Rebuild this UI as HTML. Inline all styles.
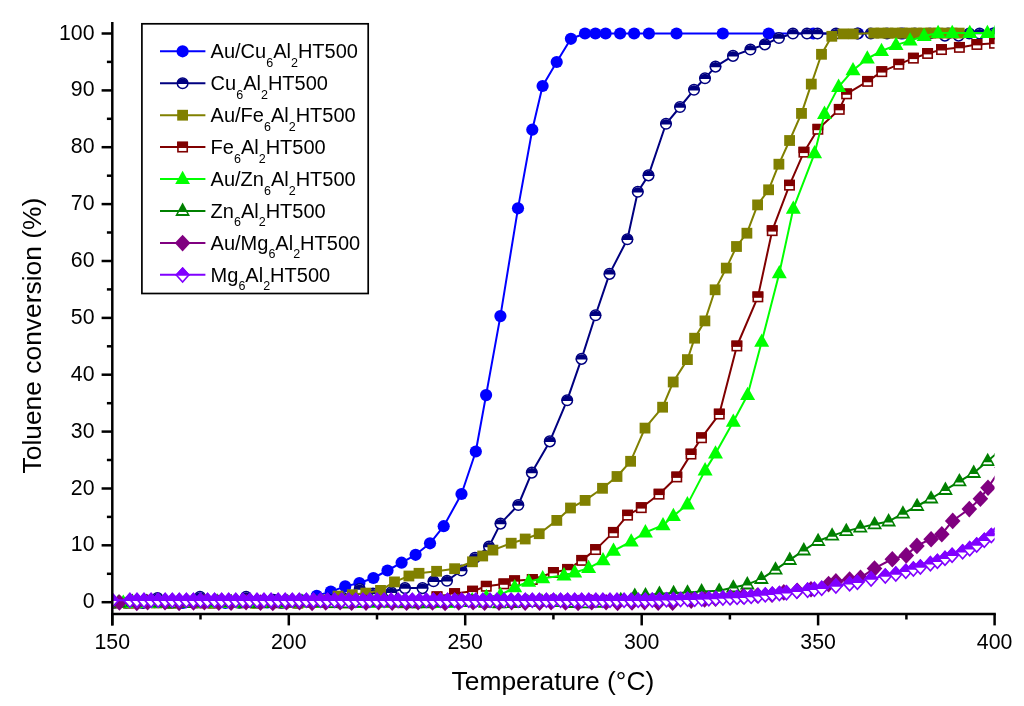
<!DOCTYPE html>
<html><head><meta charset="utf-8"><title>Toluene conversion</title>
<style>html,body{margin:0;padding:0;background:#fff;}body{width:1024px;height:706px;position:relative;overflow:hidden;font-family:"Liberation Sans",sans-serif;}</style>
</head><body>
<svg width="1024" height="706" viewBox="0 0 1024 706" style="position:absolute;left:0;top:0;will-change:transform">
<defs><clipPath id="clip"><rect x="112.3" y="21.9" width="882.3000000000001" height="592.1"/></clipPath></defs>
<rect width="1024" height="706" fill="#fff"/>
<g clip-path="url(#clip)">
<path d="M112.3,602.6 L126.4,603.0 L140.5,602.5 L154.7,602.2 L168.8,602.8 L182.9,602.9 L197.0,602.3 L211.1,602.4 L225.3,602.9 L239.4,602.8 L253.5,602.2 L267.6,602.5 L281.7,603.0 L295.9,602.6 L302.7,600.5 L316.7,595.8 L330.8,591.6 L345.2,586.4 L359.4,583.0 L373.4,578.0 L387.5,570.5 L401.6,562.7 L415.6,554.8 L430.0,543.3 L443.7,526.2 L461.5,494.0 L475.8,451.5 L486.1,395.1 L500.4,316.1 L518.0,208.3 L532.3,129.7 L542.6,86.0 L556.7,62.0 L570.9,38.8 L585.0,33.5 L595.4,33.5 L605.6,33.5 L620.1,33.5 L634.1,33.5 L648.9,33.5 L676.5,33.5 L722.8,33.5 L768.7,33.5 L813.3,33.5 L858.0,33.5 L903.0,33.5 L948.0,33.5 L993.0,33.5" fill="none" stroke="#0000ff" stroke-width="2.0" stroke-linejoin="round"/>
<circle cx="112.3" cy="602.6" r="6.1" fill="#0000ff"/>
<circle cx="126.4" cy="603.0" r="6.1" fill="#0000ff"/>
<circle cx="140.5" cy="602.5" r="6.1" fill="#0000ff"/>
<circle cx="154.7" cy="602.2" r="6.1" fill="#0000ff"/>
<circle cx="168.8" cy="602.8" r="6.1" fill="#0000ff"/>
<circle cx="182.9" cy="602.9" r="6.1" fill="#0000ff"/>
<circle cx="197.0" cy="602.3" r="6.1" fill="#0000ff"/>
<circle cx="211.1" cy="602.4" r="6.1" fill="#0000ff"/>
<circle cx="225.3" cy="602.9" r="6.1" fill="#0000ff"/>
<circle cx="239.4" cy="602.8" r="6.1" fill="#0000ff"/>
<circle cx="253.5" cy="602.2" r="6.1" fill="#0000ff"/>
<circle cx="267.6" cy="602.5" r="6.1" fill="#0000ff"/>
<circle cx="281.7" cy="603.0" r="6.1" fill="#0000ff"/>
<circle cx="295.9" cy="602.6" r="6.1" fill="#0000ff"/>
<circle cx="302.7" cy="600.5" r="6.1" fill="#0000ff"/>
<circle cx="316.7" cy="595.8" r="6.1" fill="#0000ff"/>
<circle cx="330.8" cy="591.6" r="6.1" fill="#0000ff"/>
<circle cx="345.2" cy="586.4" r="6.1" fill="#0000ff"/>
<circle cx="359.4" cy="583.0" r="6.1" fill="#0000ff"/>
<circle cx="373.4" cy="578.0" r="6.1" fill="#0000ff"/>
<circle cx="387.5" cy="570.5" r="6.1" fill="#0000ff"/>
<circle cx="401.6" cy="562.7" r="6.1" fill="#0000ff"/>
<circle cx="415.6" cy="554.8" r="6.1" fill="#0000ff"/>
<circle cx="430.0" cy="543.3" r="6.1" fill="#0000ff"/>
<circle cx="443.7" cy="526.2" r="6.1" fill="#0000ff"/>
<circle cx="461.5" cy="494.0" r="6.1" fill="#0000ff"/>
<circle cx="475.8" cy="451.5" r="6.1" fill="#0000ff"/>
<circle cx="486.1" cy="395.1" r="6.1" fill="#0000ff"/>
<circle cx="500.4" cy="316.1" r="6.1" fill="#0000ff"/>
<circle cx="518.0" cy="208.3" r="6.1" fill="#0000ff"/>
<circle cx="532.3" cy="129.7" r="6.1" fill="#0000ff"/>
<circle cx="542.6" cy="86.0" r="6.1" fill="#0000ff"/>
<circle cx="556.7" cy="62.0" r="6.1" fill="#0000ff"/>
<circle cx="570.9" cy="38.8" r="6.1" fill="#0000ff"/>
<circle cx="585.0" cy="33.5" r="6.1" fill="#0000ff"/>
<circle cx="595.4" cy="33.5" r="6.1" fill="#0000ff"/>
<circle cx="605.6" cy="33.5" r="6.1" fill="#0000ff"/>
<circle cx="620.1" cy="33.5" r="6.1" fill="#0000ff"/>
<circle cx="634.1" cy="33.5" r="6.1" fill="#0000ff"/>
<circle cx="648.9" cy="33.5" r="6.1" fill="#0000ff"/>
<circle cx="676.5" cy="33.5" r="6.1" fill="#0000ff"/>
<circle cx="722.8" cy="33.5" r="6.1" fill="#0000ff"/>
<circle cx="768.7" cy="33.5" r="6.1" fill="#0000ff"/>
<circle cx="813.3" cy="33.5" r="6.1" fill="#0000ff"/>
<circle cx="858.0" cy="33.5" r="6.1" fill="#0000ff"/>
<circle cx="903.0" cy="33.5" r="6.1" fill="#0000ff"/>
<circle cx="948.0" cy="33.5" r="6.1" fill="#0000ff"/>
<circle cx="993.0" cy="33.5" r="6.1" fill="#0000ff"/>
<path d="M115.0,602.8 L129.0,602.3 L143.0,603.0 L157.5,598.0 L171.5,602.6 L186.0,602.2 L200.0,596.8 L214.0,602.5 L228.0,601.5 L246.1,596.9 L260.0,602.4 L273.5,599.7 L287.0,602.0 L301.0,601.5 L315.0,600.5 L329.0,599.5 L343.0,598.0 L359.7,589.0 L373.0,593.5 L391.3,592.3 L405.0,588.1 L422.5,588.1 L433.5,581.2 L447.0,580.7 L461.5,570.5 L475.0,557.8 L489.0,546.5 L500.5,523.6 L518.3,505.0 L531.8,472.6 L549.8,441.4 L567.2,400.2 L581.5,358.9 L595.5,315.3 L609.5,273.9 L627.4,239.2 L637.8,191.8 L648.5,175.4 L666.0,123.8 L680.0,107.0 L694.0,89.8 L705.0,78.3 L715.5,66.6 L733.0,55.9 L750.4,49.5 L764.9,44.4 L778.9,38.0 L792.9,33.5 L807.0,33.5 L817.5,33.5 L836.0,33.5 L857.4,33.5 L870.8,33.5 L887.0,33.5 L901.0,33.5 L915.0,33.5 L930.0,33.5 L944.9,35.6 L958.6,35.6 L969.3,33.5 L979.6,33.5 L993.8,33.5" fill="none" stroke="#000080" stroke-width="2.0" stroke-linejoin="round"/>
<circle cx="115.0" cy="602.8" r="5.3" fill="#fff" stroke="#000080" stroke-width="1.5"/><path d="M109.04,603.5 A6.0,6.0 0 0 1 120.96,603.5 Z" fill="#000080"/>
<circle cx="129.0" cy="602.3" r="5.3" fill="#fff" stroke="#000080" stroke-width="1.5"/><path d="M123.04,603.0 A6.0,6.0 0 0 1 134.96,603.0 Z" fill="#000080"/>
<circle cx="143.0" cy="603.0" r="5.3" fill="#fff" stroke="#000080" stroke-width="1.5"/><path d="M137.04,603.7 A6.0,6.0 0 0 1 148.96,603.7 Z" fill="#000080"/>
<circle cx="157.5" cy="598.0" r="5.3" fill="#fff" stroke="#000080" stroke-width="1.5"/><path d="M151.54,598.7 A6.0,6.0 0 0 1 163.46,598.7 Z" fill="#000080"/>
<circle cx="171.5" cy="602.6" r="5.3" fill="#fff" stroke="#000080" stroke-width="1.5"/><path d="M165.54,603.3 A6.0,6.0 0 0 1 177.46,603.3 Z" fill="#000080"/>
<circle cx="186.0" cy="602.2" r="5.3" fill="#fff" stroke="#000080" stroke-width="1.5"/><path d="M180.04,602.9 A6.0,6.0 0 0 1 191.96,602.9 Z" fill="#000080"/>
<circle cx="200.0" cy="596.8" r="5.3" fill="#fff" stroke="#000080" stroke-width="1.5"/><path d="M194.04,597.5 A6.0,6.0 0 0 1 205.96,597.5 Z" fill="#000080"/>
<circle cx="214.0" cy="602.5" r="5.3" fill="#fff" stroke="#000080" stroke-width="1.5"/><path d="M208.04,603.2 A6.0,6.0 0 0 1 219.96,603.2 Z" fill="#000080"/>
<circle cx="228.0" cy="601.5" r="5.3" fill="#fff" stroke="#000080" stroke-width="1.5"/><path d="M222.04,602.2 A6.0,6.0 0 0 1 233.96,602.2 Z" fill="#000080"/>
<circle cx="246.1" cy="596.9" r="5.3" fill="#fff" stroke="#000080" stroke-width="1.5"/><path d="M240.14,597.6 A6.0,6.0 0 0 1 252.06,597.6 Z" fill="#000080"/>
<circle cx="260.0" cy="602.4" r="5.3" fill="#fff" stroke="#000080" stroke-width="1.5"/><path d="M254.04,603.1 A6.0,6.0 0 0 1 265.96,603.1 Z" fill="#000080"/>
<circle cx="273.5" cy="599.7" r="5.3" fill="#fff" stroke="#000080" stroke-width="1.5"/><path d="M267.54,600.4 A6.0,6.0 0 0 1 279.46,600.4 Z" fill="#000080"/>
<circle cx="287.0" cy="602.0" r="5.3" fill="#fff" stroke="#000080" stroke-width="1.5"/><path d="M281.04,602.7 A6.0,6.0 0 0 1 292.96,602.7 Z" fill="#000080"/>
<circle cx="301.0" cy="601.5" r="5.3" fill="#fff" stroke="#000080" stroke-width="1.5"/><path d="M295.04,602.2 A6.0,6.0 0 0 1 306.96,602.2 Z" fill="#000080"/>
<circle cx="315.0" cy="600.5" r="5.3" fill="#fff" stroke="#000080" stroke-width="1.5"/><path d="M309.04,601.2 A6.0,6.0 0 0 1 320.96,601.2 Z" fill="#000080"/>
<circle cx="329.0" cy="599.5" r="5.3" fill="#fff" stroke="#000080" stroke-width="1.5"/><path d="M323.04,600.2 A6.0,6.0 0 0 1 334.96,600.2 Z" fill="#000080"/>
<circle cx="343.0" cy="598.0" r="5.3" fill="#fff" stroke="#000080" stroke-width="1.5"/><path d="M337.04,598.7 A6.0,6.0 0 0 1 348.96,598.7 Z" fill="#000080"/>
<circle cx="359.7" cy="589.0" r="5.3" fill="#fff" stroke="#000080" stroke-width="1.5"/><path d="M353.74,589.7 A6.0,6.0 0 0 1 365.66,589.7 Z" fill="#000080"/>
<circle cx="373.0" cy="593.5" r="5.3" fill="#fff" stroke="#000080" stroke-width="1.5"/><path d="M367.04,594.2 A6.0,6.0 0 0 1 378.96,594.2 Z" fill="#000080"/>
<circle cx="391.3" cy="592.3" r="5.3" fill="#fff" stroke="#000080" stroke-width="1.5"/><path d="M385.34,593.0 A6.0,6.0 0 0 1 397.26,593.0 Z" fill="#000080"/>
<circle cx="405.0" cy="588.1" r="5.3" fill="#fff" stroke="#000080" stroke-width="1.5"/><path d="M399.04,588.8 A6.0,6.0 0 0 1 410.96,588.8 Z" fill="#000080"/>
<circle cx="422.5" cy="588.1" r="5.3" fill="#fff" stroke="#000080" stroke-width="1.5"/><path d="M416.54,588.8 A6.0,6.0 0 0 1 428.46,588.8 Z" fill="#000080"/>
<circle cx="433.5" cy="581.2" r="5.3" fill="#fff" stroke="#000080" stroke-width="1.5"/><path d="M427.54,581.9 A6.0,6.0 0 0 1 439.46,581.9 Z" fill="#000080"/>
<circle cx="447.0" cy="580.7" r="5.3" fill="#fff" stroke="#000080" stroke-width="1.5"/><path d="M441.04,581.4 A6.0,6.0 0 0 1 452.96,581.4 Z" fill="#000080"/>
<circle cx="461.5" cy="570.5" r="5.3" fill="#fff" stroke="#000080" stroke-width="1.5"/><path d="M455.54,571.2 A6.0,6.0 0 0 1 467.46,571.2 Z" fill="#000080"/>
<circle cx="475.0" cy="557.8" r="5.3" fill="#fff" stroke="#000080" stroke-width="1.5"/><path d="M469.04,558.5 A6.0,6.0 0 0 1 480.96,558.5 Z" fill="#000080"/>
<circle cx="489.0" cy="546.5" r="5.3" fill="#fff" stroke="#000080" stroke-width="1.5"/><path d="M483.04,547.2 A6.0,6.0 0 0 1 494.96,547.2 Z" fill="#000080"/>
<circle cx="500.5" cy="523.6" r="5.3" fill="#fff" stroke="#000080" stroke-width="1.5"/><path d="M494.54,524.3 A6.0,6.0 0 0 1 506.46,524.3 Z" fill="#000080"/>
<circle cx="518.3" cy="505.0" r="5.3" fill="#fff" stroke="#000080" stroke-width="1.5"/><path d="M512.34,505.7 A6.0,6.0 0 0 1 524.26,505.7 Z" fill="#000080"/>
<circle cx="531.8" cy="472.6" r="5.3" fill="#fff" stroke="#000080" stroke-width="1.5"/><path d="M525.84,473.3 A6.0,6.0 0 0 1 537.76,473.3 Z" fill="#000080"/>
<circle cx="549.8" cy="441.4" r="5.3" fill="#fff" stroke="#000080" stroke-width="1.5"/><path d="M543.84,442.1 A6.0,6.0 0 0 1 555.76,442.1 Z" fill="#000080"/>
<circle cx="567.2" cy="400.2" r="5.3" fill="#fff" stroke="#000080" stroke-width="1.5"/><path d="M561.24,400.9 A6.0,6.0 0 0 1 573.16,400.9 Z" fill="#000080"/>
<circle cx="581.5" cy="358.9" r="5.3" fill="#fff" stroke="#000080" stroke-width="1.5"/><path d="M575.54,359.6 A6.0,6.0 0 0 1 587.46,359.6 Z" fill="#000080"/>
<circle cx="595.5" cy="315.3" r="5.3" fill="#fff" stroke="#000080" stroke-width="1.5"/><path d="M589.54,316.0 A6.0,6.0 0 0 1 601.46,316.0 Z" fill="#000080"/>
<circle cx="609.5" cy="273.9" r="5.3" fill="#fff" stroke="#000080" stroke-width="1.5"/><path d="M603.54,274.6 A6.0,6.0 0 0 1 615.46,274.6 Z" fill="#000080"/>
<circle cx="627.4" cy="239.2" r="5.3" fill="#fff" stroke="#000080" stroke-width="1.5"/><path d="M621.44,239.9 A6.0,6.0 0 0 1 633.36,239.9 Z" fill="#000080"/>
<circle cx="637.8" cy="191.8" r="5.3" fill="#fff" stroke="#000080" stroke-width="1.5"/><path d="M631.84,192.5 A6.0,6.0 0 0 1 643.76,192.5 Z" fill="#000080"/>
<circle cx="648.5" cy="175.4" r="5.3" fill="#fff" stroke="#000080" stroke-width="1.5"/><path d="M642.54,176.1 A6.0,6.0 0 0 1 654.46,176.1 Z" fill="#000080"/>
<circle cx="666.0" cy="123.8" r="5.3" fill="#fff" stroke="#000080" stroke-width="1.5"/><path d="M660.04,124.5 A6.0,6.0 0 0 1 671.96,124.5 Z" fill="#000080"/>
<circle cx="680.0" cy="107.0" r="5.3" fill="#fff" stroke="#000080" stroke-width="1.5"/><path d="M674.04,107.7 A6.0,6.0 0 0 1 685.96,107.7 Z" fill="#000080"/>
<circle cx="694.0" cy="89.8" r="5.3" fill="#fff" stroke="#000080" stroke-width="1.5"/><path d="M688.04,90.5 A6.0,6.0 0 0 1 699.96,90.5 Z" fill="#000080"/>
<circle cx="705.0" cy="78.3" r="5.3" fill="#fff" stroke="#000080" stroke-width="1.5"/><path d="M699.04,79.0 A6.0,6.0 0 0 1 710.96,79.0 Z" fill="#000080"/>
<circle cx="715.5" cy="66.6" r="5.3" fill="#fff" stroke="#000080" stroke-width="1.5"/><path d="M709.54,67.3 A6.0,6.0 0 0 1 721.46,67.3 Z" fill="#000080"/>
<circle cx="733.0" cy="55.9" r="5.3" fill="#fff" stroke="#000080" stroke-width="1.5"/><path d="M727.04,56.6 A6.0,6.0 0 0 1 738.96,56.6 Z" fill="#000080"/>
<circle cx="750.4" cy="49.5" r="5.3" fill="#fff" stroke="#000080" stroke-width="1.5"/><path d="M744.44,50.2 A6.0,6.0 0 0 1 756.36,50.2 Z" fill="#000080"/>
<circle cx="764.9" cy="44.4" r="5.3" fill="#fff" stroke="#000080" stroke-width="1.5"/><path d="M758.94,45.1 A6.0,6.0 0 0 1 770.86,45.1 Z" fill="#000080"/>
<circle cx="778.9" cy="38.0" r="5.3" fill="#fff" stroke="#000080" stroke-width="1.5"/><path d="M772.94,38.7 A6.0,6.0 0 0 1 784.86,38.7 Z" fill="#000080"/>
<circle cx="792.9" cy="33.5" r="5.3" fill="#fff" stroke="#000080" stroke-width="1.5"/><path d="M786.94,34.2 A6.0,6.0 0 0 1 798.86,34.2 Z" fill="#000080"/>
<circle cx="807.0" cy="33.5" r="5.3" fill="#fff" stroke="#000080" stroke-width="1.5"/><path d="M801.04,34.2 A6.0,6.0 0 0 1 812.96,34.2 Z" fill="#000080"/>
<circle cx="817.5" cy="33.5" r="5.3" fill="#fff" stroke="#000080" stroke-width="1.5"/><path d="M811.54,34.2 A6.0,6.0 0 0 1 823.46,34.2 Z" fill="#000080"/>
<circle cx="836.0" cy="33.5" r="5.3" fill="#fff" stroke="#000080" stroke-width="1.5"/><path d="M830.04,34.2 A6.0,6.0 0 0 1 841.96,34.2 Z" fill="#000080"/>
<circle cx="857.4" cy="33.5" r="5.3" fill="#fff" stroke="#000080" stroke-width="1.5"/><path d="M851.44,34.2 A6.0,6.0 0 0 1 863.36,34.2 Z" fill="#000080"/>
<circle cx="870.8" cy="33.5" r="5.3" fill="#fff" stroke="#000080" stroke-width="1.5"/><path d="M864.84,34.2 A6.0,6.0 0 0 1 876.76,34.2 Z" fill="#000080"/>
<circle cx="887.0" cy="33.5" r="5.3" fill="#fff" stroke="#000080" stroke-width="1.5"/><path d="M881.04,34.2 A6.0,6.0 0 0 1 892.96,34.2 Z" fill="#000080"/>
<circle cx="901.0" cy="33.5" r="5.3" fill="#fff" stroke="#000080" stroke-width="1.5"/><path d="M895.04,34.2 A6.0,6.0 0 0 1 906.96,34.2 Z" fill="#000080"/>
<circle cx="915.0" cy="33.5" r="5.3" fill="#fff" stroke="#000080" stroke-width="1.5"/><path d="M909.04,34.2 A6.0,6.0 0 0 1 920.96,34.2 Z" fill="#000080"/>
<circle cx="930.0" cy="33.5" r="5.3" fill="#fff" stroke="#000080" stroke-width="1.5"/><path d="M924.04,34.2 A6.0,6.0 0 0 1 935.96,34.2 Z" fill="#000080"/>
<circle cx="944.9" cy="35.6" r="5.3" fill="#fff" stroke="#000080" stroke-width="1.5"/><path d="M938.94,36.3 A6.0,6.0 0 0 1 950.86,36.3 Z" fill="#000080"/>
<circle cx="958.6" cy="35.6" r="5.3" fill="#fff" stroke="#000080" stroke-width="1.5"/><path d="M952.64,36.3 A6.0,6.0 0 0 1 964.56,36.3 Z" fill="#000080"/>
<circle cx="969.3" cy="33.5" r="5.3" fill="#fff" stroke="#000080" stroke-width="1.5"/><path d="M963.34,34.2 A6.0,6.0 0 0 1 975.26,34.2 Z" fill="#000080"/>
<circle cx="979.6" cy="33.5" r="5.3" fill="#fff" stroke="#000080" stroke-width="1.5"/><path d="M973.64,34.2 A6.0,6.0 0 0 1 985.56,34.2 Z" fill="#000080"/>
<circle cx="993.8" cy="33.5" r="5.3" fill="#fff" stroke="#000080" stroke-width="1.5"/><path d="M987.84,34.2 A6.0,6.0 0 0 1 999.76,34.2 Z" fill="#000080"/>
<path d="M114.3,603.0 L128.4,603.3 L142.5,602.7 L156.7,603.0 L170.8,603.3 L184.9,602.6 L199.0,603.0 L213.1,603.3 L227.3,602.6 L241.4,603.0 L255.5,603.3 L269.6,602.6 L283.7,603.0 L297.9,603.3 L312.0,602.6 L323.8,600.0 L338.0,596.1 L352.3,594.7 L365.8,593.1 L380.5,590.4 L394.5,581.9 L408.9,576.0 L419.0,573.3 L436.6,571.3 L454.6,568.7 L472.5,561.8 L482.7,556.0 L492.9,550.1 L511.2,543.2 L525.2,539.0 L539.2,533.7 L556.8,520.4 L570.5,508.0 L585.1,500.4 L602.5,488.3 L617.0,476.5 L630.6,461.3 L645.0,428.1 L662.6,407.2 L673.2,382.0 L687.4,359.6 L694.6,338.2 L704.9,320.9 L715.1,289.8 L726.3,268.1 L736.5,246.5 L746.9,233.2 L757.6,204.9 L768.6,189.8 L778.9,164.2 L789.6,140.5 L801.5,113.4 L811.3,84.1 L821.5,54.3 L831.8,36.3 L843.0,33.9 L853.3,33.9 L873.8,33.1 L880.9,33.1 L888.0,33.1 L895.2,33.1 L902.3,33.1 L909.4,33.1 L916.5,33.1 L923.6,33.1 L930.8,33.1 L937.9,33.1 L945.0,33.1 L952.1,33.1 L959.2,33.1" fill="none" stroke="#808000" stroke-width="2.0" stroke-linejoin="round"/>
<rect x="108.9" y="597.6" width="10.8" height="10.8" fill="#808000"/>
<rect x="123.0" y="597.9" width="10.8" height="10.8" fill="#808000"/>
<rect x="137.1" y="597.3" width="10.8" height="10.8" fill="#808000"/>
<rect x="151.3" y="597.6" width="10.8" height="10.8" fill="#808000"/>
<rect x="165.4" y="597.9" width="10.8" height="10.8" fill="#808000"/>
<rect x="179.5" y="597.2" width="10.8" height="10.8" fill="#808000"/>
<rect x="193.6" y="597.6" width="10.8" height="10.8" fill="#808000"/>
<rect x="207.7" y="597.9" width="10.8" height="10.8" fill="#808000"/>
<rect x="221.9" y="597.2" width="10.8" height="10.8" fill="#808000"/>
<rect x="236.0" y="597.6" width="10.8" height="10.8" fill="#808000"/>
<rect x="250.1" y="597.9" width="10.8" height="10.8" fill="#808000"/>
<rect x="264.2" y="597.2" width="10.8" height="10.8" fill="#808000"/>
<rect x="278.3" y="597.6" width="10.8" height="10.8" fill="#808000"/>
<rect x="292.5" y="597.9" width="10.8" height="10.8" fill="#808000"/>
<rect x="306.6" y="597.2" width="10.8" height="10.8" fill="#808000"/>
<rect x="318.4" y="594.6" width="10.8" height="10.8" fill="#808000"/>
<rect x="332.6" y="590.7" width="10.8" height="10.8" fill="#808000"/>
<rect x="346.9" y="589.3" width="10.8" height="10.8" fill="#808000"/>
<rect x="360.4" y="587.7" width="10.8" height="10.8" fill="#808000"/>
<rect x="375.1" y="585.0" width="10.8" height="10.8" fill="#808000"/>
<rect x="389.1" y="576.5" width="10.8" height="10.8" fill="#808000"/>
<rect x="403.5" y="570.6" width="10.8" height="10.8" fill="#808000"/>
<rect x="413.6" y="567.9" width="10.8" height="10.8" fill="#808000"/>
<rect x="431.2" y="565.9" width="10.8" height="10.8" fill="#808000"/>
<rect x="449.2" y="563.3" width="10.8" height="10.8" fill="#808000"/>
<rect x="467.1" y="556.4" width="10.8" height="10.8" fill="#808000"/>
<rect x="477.3" y="550.6" width="10.8" height="10.8" fill="#808000"/>
<rect x="487.5" y="544.7" width="10.8" height="10.8" fill="#808000"/>
<rect x="505.8" y="537.8" width="10.8" height="10.8" fill="#808000"/>
<rect x="519.8" y="533.6" width="10.8" height="10.8" fill="#808000"/>
<rect x="533.8" y="528.3" width="10.8" height="10.8" fill="#808000"/>
<rect x="551.4" y="515.0" width="10.8" height="10.8" fill="#808000"/>
<rect x="565.1" y="502.6" width="10.8" height="10.8" fill="#808000"/>
<rect x="579.7" y="495.0" width="10.8" height="10.8" fill="#808000"/>
<rect x="597.1" y="482.9" width="10.8" height="10.8" fill="#808000"/>
<rect x="611.6" y="471.1" width="10.8" height="10.8" fill="#808000"/>
<rect x="625.2" y="455.9" width="10.8" height="10.8" fill="#808000"/>
<rect x="639.6" y="422.7" width="10.8" height="10.8" fill="#808000"/>
<rect x="657.2" y="401.8" width="10.8" height="10.8" fill="#808000"/>
<rect x="667.8" y="376.6" width="10.8" height="10.8" fill="#808000"/>
<rect x="682.0" y="354.2" width="10.8" height="10.8" fill="#808000"/>
<rect x="689.2" y="332.8" width="10.8" height="10.8" fill="#808000"/>
<rect x="699.5" y="315.5" width="10.8" height="10.8" fill="#808000"/>
<rect x="709.7" y="284.4" width="10.8" height="10.8" fill="#808000"/>
<rect x="720.9" y="262.7" width="10.8" height="10.8" fill="#808000"/>
<rect x="731.1" y="241.1" width="10.8" height="10.8" fill="#808000"/>
<rect x="741.5" y="227.8" width="10.8" height="10.8" fill="#808000"/>
<rect x="752.2" y="199.5" width="10.8" height="10.8" fill="#808000"/>
<rect x="763.2" y="184.4" width="10.8" height="10.8" fill="#808000"/>
<rect x="773.5" y="158.8" width="10.8" height="10.8" fill="#808000"/>
<rect x="784.2" y="135.1" width="10.8" height="10.8" fill="#808000"/>
<rect x="796.1" y="108.0" width="10.8" height="10.8" fill="#808000"/>
<rect x="805.9" y="78.7" width="10.8" height="10.8" fill="#808000"/>
<rect x="816.1" y="48.9" width="10.8" height="10.8" fill="#808000"/>
<rect x="826.4" y="30.9" width="10.8" height="10.8" fill="#808000"/>
<rect x="837.6" y="28.5" width="10.8" height="10.8" fill="#808000"/>
<rect x="847.9" y="28.5" width="10.8" height="10.8" fill="#808000"/>
<rect x="868.4" y="27.7" width="10.8" height="10.8" fill="#808000"/>
<rect x="875.5" y="27.7" width="10.8" height="10.8" fill="#808000"/>
<rect x="882.6" y="27.7" width="10.8" height="10.8" fill="#808000"/>
<rect x="889.8" y="27.7" width="10.8" height="10.8" fill="#808000"/>
<rect x="896.9" y="27.7" width="10.8" height="10.8" fill="#808000"/>
<rect x="904.0" y="27.7" width="10.8" height="10.8" fill="#808000"/>
<rect x="911.1" y="27.7" width="10.8" height="10.8" fill="#808000"/>
<rect x="918.2" y="27.7" width="10.8" height="10.8" fill="#808000"/>
<rect x="925.4" y="27.7" width="10.8" height="10.8" fill="#808000"/>
<rect x="932.5" y="27.7" width="10.8" height="10.8" fill="#808000"/>
<rect x="939.6" y="27.7" width="10.8" height="10.8" fill="#808000"/>
<rect x="946.7" y="27.7" width="10.8" height="10.8" fill="#808000"/>
<rect x="953.8" y="27.7" width="10.8" height="10.8" fill="#808000"/>
<path d="M120.3,602.4 L134.4,602.8 L148.5,602.6 L162.7,602.1 L176.8,602.0 L190.9,602.5 L205.0,602.8 L219.1,602.5 L233.3,602.1 L247.4,602.1 L261.5,602.6 L275.6,602.8 L289.7,602.4 L303.9,602.0 L318.0,602.2 L332.1,602.6 L346.2,602.8 L360.3,602.4 L374.5,602.0 L388.6,602.2 L402.7,602.7 L416.8,602.7 L437.0,596.8 L454.6,593.6 L472.6,591.2 L486.3,586.3 L503.9,583.9 L514.6,580.8 L532.3,579.5 L553.4,572.5 L567.6,569.4 L581.8,560.4 L595.6,549.6 L613.4,532.4 L627.6,515.2 L641.3,507.7 L659.1,494.2 L676.8,477.0 L691.0,454.1 L701.5,437.8 L719.3,414.1 L736.9,346.0 L757.9,296.9 L772.2,230.7 L789.5,185.2 L803.9,152.2 L817.9,129.3 L839.3,109.4 L846.6,93.9 L867.6,81.4 L881.8,71.7 L898.8,64.3 L913.4,58.2 L927.6,53.5 L941.5,49.6 L959.4,47.4 L976.9,44.5 L994.5,43.3" fill="none" stroke="#800000" stroke-width="2.0" stroke-linejoin="round"/>
<rect x="115.65" y="597.75" width="9.30" height="9.30" fill="#fff" stroke="#800000" stroke-width="1.6"/><rect x="114.85" y="596.95" width="10.9" height="6.3500000000000005" fill="#800000"/>
<rect x="129.77" y="598.14" width="9.30" height="9.30" fill="#fff" stroke="#800000" stroke-width="1.6"/><rect x="128.97" y="597.34" width="10.9" height="6.3500000000000005" fill="#800000"/>
<rect x="143.89" y="597.96" width="9.30" height="9.30" fill="#fff" stroke="#800000" stroke-width="1.6"/><rect x="143.09" y="597.16" width="10.9" height="6.3500000000000005" fill="#800000"/>
<rect x="158.01" y="597.47" width="9.30" height="9.30" fill="#fff" stroke="#800000" stroke-width="1.6"/><rect x="157.21" y="596.67" width="10.9" height="6.3500000000000005" fill="#800000"/>
<rect x="172.13" y="597.40" width="9.30" height="9.30" fill="#fff" stroke="#800000" stroke-width="1.6"/><rect x="171.33" y="596.60" width="10.9" height="6.3500000000000005" fill="#800000"/>
<rect x="186.25" y="597.84" width="9.30" height="9.30" fill="#fff" stroke="#800000" stroke-width="1.6"/><rect x="185.45" y="597.04" width="10.9" height="6.3500000000000005" fill="#800000"/>
<rect x="200.37" y="598.15" width="9.30" height="9.30" fill="#fff" stroke="#800000" stroke-width="1.6"/><rect x="199.57" y="597.35" width="10.9" height="6.3500000000000005" fill="#800000"/>
<rect x="214.49" y="597.88" width="9.30" height="9.30" fill="#fff" stroke="#800000" stroke-width="1.6"/><rect x="213.69" y="597.08" width="10.9" height="6.3500000000000005" fill="#800000"/>
<rect x="228.61" y="597.42" width="9.30" height="9.30" fill="#fff" stroke="#800000" stroke-width="1.6"/><rect x="227.81" y="596.62" width="10.9" height="6.3500000000000005" fill="#800000"/>
<rect x="242.73" y="597.45" width="9.30" height="9.30" fill="#fff" stroke="#800000" stroke-width="1.6"/><rect x="241.93" y="596.65" width="10.9" height="6.3500000000000005" fill="#800000"/>
<rect x="256.85" y="597.92" width="9.30" height="9.30" fill="#fff" stroke="#800000" stroke-width="1.6"/><rect x="256.05" y="597.12" width="10.9" height="6.3500000000000005" fill="#800000"/>
<rect x="270.97" y="598.14" width="9.30" height="9.30" fill="#fff" stroke="#800000" stroke-width="1.6"/><rect x="270.17" y="597.34" width="10.9" height="6.3500000000000005" fill="#800000"/>
<rect x="285.09" y="597.79" width="9.30" height="9.30" fill="#fff" stroke="#800000" stroke-width="1.6"/><rect x="284.29" y="596.99" width="10.9" height="6.3500000000000005" fill="#800000"/>
<rect x="299.21" y="597.38" width="9.30" height="9.30" fill="#fff" stroke="#800000" stroke-width="1.6"/><rect x="298.41" y="596.58" width="10.9" height="6.3500000000000005" fill="#800000"/>
<rect x="313.33" y="597.51" width="9.30" height="9.30" fill="#fff" stroke="#800000" stroke-width="1.6"/><rect x="312.53" y="596.71" width="10.9" height="6.3500000000000005" fill="#800000"/>
<rect x="327.45" y="597.99" width="9.30" height="9.30" fill="#fff" stroke="#800000" stroke-width="1.6"/><rect x="326.65" y="597.19" width="10.9" height="6.3500000000000005" fill="#800000"/>
<rect x="341.57" y="598.12" width="9.30" height="9.30" fill="#fff" stroke="#800000" stroke-width="1.6"/><rect x="340.77" y="597.32" width="10.9" height="6.3500000000000005" fill="#800000"/>
<rect x="355.69" y="597.71" width="9.30" height="9.30" fill="#fff" stroke="#800000" stroke-width="1.6"/><rect x="354.89" y="596.91" width="10.9" height="6.3500000000000005" fill="#800000"/>
<rect x="369.81" y="597.36" width="9.30" height="9.30" fill="#fff" stroke="#800000" stroke-width="1.6"/><rect x="369.01" y="596.56" width="10.9" height="6.3500000000000005" fill="#800000"/>
<rect x="383.93" y="597.58" width="9.30" height="9.30" fill="#fff" stroke="#800000" stroke-width="1.6"/><rect x="383.13" y="596.78" width="10.9" height="6.3500000000000005" fill="#800000"/>
<rect x="398.05" y="598.06" width="9.30" height="9.30" fill="#fff" stroke="#800000" stroke-width="1.6"/><rect x="397.25" y="597.26" width="10.9" height="6.3500000000000005" fill="#800000"/>
<rect x="412.17" y="598.08" width="9.30" height="9.30" fill="#fff" stroke="#800000" stroke-width="1.6"/><rect x="411.37" y="597.28" width="10.9" height="6.3500000000000005" fill="#800000"/>
<rect x="432.35" y="592.15" width="9.30" height="9.30" fill="#fff" stroke="#800000" stroke-width="1.6"/><rect x="431.55" y="591.35" width="10.9" height="6.3500000000000005" fill="#800000"/>
<rect x="449.95" y="589.00" width="9.30" height="9.30" fill="#fff" stroke="#800000" stroke-width="1.6"/><rect x="449.15" y="588.20" width="10.9" height="6.3500000000000005" fill="#800000"/>
<rect x="467.95" y="586.55" width="9.30" height="9.30" fill="#fff" stroke="#800000" stroke-width="1.6"/><rect x="467.15" y="585.75" width="10.9" height="6.3500000000000005" fill="#800000"/>
<rect x="481.65" y="581.65" width="9.30" height="9.30" fill="#fff" stroke="#800000" stroke-width="1.6"/><rect x="480.85" y="580.85" width="10.9" height="6.3500000000000005" fill="#800000"/>
<rect x="499.25" y="579.25" width="9.30" height="9.30" fill="#fff" stroke="#800000" stroke-width="1.6"/><rect x="498.45" y="578.45" width="10.9" height="6.3500000000000005" fill="#800000"/>
<rect x="509.95" y="576.15" width="9.30" height="9.30" fill="#fff" stroke="#800000" stroke-width="1.6"/><rect x="509.15" y="575.35" width="10.9" height="6.3500000000000005" fill="#800000"/>
<rect x="527.65" y="574.85" width="9.30" height="9.30" fill="#fff" stroke="#800000" stroke-width="1.6"/><rect x="526.85" y="574.05" width="10.9" height="6.3500000000000005" fill="#800000"/>
<rect x="548.75" y="567.85" width="9.30" height="9.30" fill="#fff" stroke="#800000" stroke-width="1.6"/><rect x="547.95" y="567.05" width="10.9" height="6.3500000000000005" fill="#800000"/>
<rect x="562.95" y="564.75" width="9.30" height="9.30" fill="#fff" stroke="#800000" stroke-width="1.6"/><rect x="562.15" y="563.95" width="10.9" height="6.3500000000000005" fill="#800000"/>
<rect x="577.15" y="555.75" width="9.30" height="9.30" fill="#fff" stroke="#800000" stroke-width="1.6"/><rect x="576.35" y="554.95" width="10.9" height="6.3500000000000005" fill="#800000"/>
<rect x="590.95" y="544.95" width="9.30" height="9.30" fill="#fff" stroke="#800000" stroke-width="1.6"/><rect x="590.15" y="544.15" width="10.9" height="6.3500000000000005" fill="#800000"/>
<rect x="608.75" y="527.75" width="9.30" height="9.30" fill="#fff" stroke="#800000" stroke-width="1.6"/><rect x="607.95" y="526.95" width="10.9" height="6.3500000000000005" fill="#800000"/>
<rect x="622.95" y="510.55" width="9.30" height="9.30" fill="#fff" stroke="#800000" stroke-width="1.6"/><rect x="622.15" y="509.75" width="10.9" height="6.3500000000000005" fill="#800000"/>
<rect x="636.65" y="503.05" width="9.30" height="9.30" fill="#fff" stroke="#800000" stroke-width="1.6"/><rect x="635.85" y="502.25" width="10.9" height="6.3500000000000005" fill="#800000"/>
<rect x="654.45" y="489.55" width="9.30" height="9.30" fill="#fff" stroke="#800000" stroke-width="1.6"/><rect x="653.65" y="488.75" width="10.9" height="6.3500000000000005" fill="#800000"/>
<rect x="672.15" y="472.35" width="9.30" height="9.30" fill="#fff" stroke="#800000" stroke-width="1.6"/><rect x="671.35" y="471.55" width="10.9" height="6.3500000000000005" fill="#800000"/>
<rect x="686.35" y="449.45" width="9.30" height="9.30" fill="#fff" stroke="#800000" stroke-width="1.6"/><rect x="685.55" y="448.65" width="10.9" height="6.3500000000000005" fill="#800000"/>
<rect x="696.85" y="433.15" width="9.30" height="9.30" fill="#fff" stroke="#800000" stroke-width="1.6"/><rect x="696.05" y="432.35" width="10.9" height="6.3500000000000005" fill="#800000"/>
<rect x="714.65" y="409.45" width="9.30" height="9.30" fill="#fff" stroke="#800000" stroke-width="1.6"/><rect x="713.85" y="408.65" width="10.9" height="6.3500000000000005" fill="#800000"/>
<rect x="732.20" y="341.35" width="9.30" height="9.30" fill="#fff" stroke="#800000" stroke-width="1.6"/><rect x="731.40" y="340.55" width="10.9" height="6.3500000000000005" fill="#800000"/>
<rect x="753.25" y="292.25" width="9.30" height="9.30" fill="#fff" stroke="#800000" stroke-width="1.6"/><rect x="752.45" y="291.45" width="10.9" height="6.3500000000000005" fill="#800000"/>
<rect x="767.55" y="226.05" width="9.30" height="9.30" fill="#fff" stroke="#800000" stroke-width="1.6"/><rect x="766.75" y="225.25" width="10.9" height="6.3500000000000005" fill="#800000"/>
<rect x="784.85" y="180.55" width="9.30" height="9.30" fill="#fff" stroke="#800000" stroke-width="1.6"/><rect x="784.05" y="179.75" width="10.9" height="6.3500000000000005" fill="#800000"/>
<rect x="799.25" y="147.55" width="9.30" height="9.30" fill="#fff" stroke="#800000" stroke-width="1.6"/><rect x="798.45" y="146.75" width="10.9" height="6.3500000000000005" fill="#800000"/>
<rect x="813.25" y="124.65" width="9.30" height="9.30" fill="#fff" stroke="#800000" stroke-width="1.6"/><rect x="812.45" y="123.85" width="10.9" height="6.3500000000000005" fill="#800000"/>
<rect x="834.65" y="104.75" width="9.30" height="9.30" fill="#fff" stroke="#800000" stroke-width="1.6"/><rect x="833.85" y="103.95" width="10.9" height="6.3500000000000005" fill="#800000"/>
<rect x="841.95" y="89.25" width="9.30" height="9.30" fill="#fff" stroke="#800000" stroke-width="1.6"/><rect x="841.15" y="88.45" width="10.9" height="6.3500000000000005" fill="#800000"/>
<rect x="862.95" y="76.75" width="9.30" height="9.30" fill="#fff" stroke="#800000" stroke-width="1.6"/><rect x="862.15" y="75.95" width="10.9" height="6.3500000000000005" fill="#800000"/>
<rect x="877.15" y="67.05" width="9.30" height="9.30" fill="#fff" stroke="#800000" stroke-width="1.6"/><rect x="876.35" y="66.25" width="10.9" height="6.3500000000000005" fill="#800000"/>
<rect x="894.15" y="59.65" width="9.30" height="9.30" fill="#fff" stroke="#800000" stroke-width="1.6"/><rect x="893.35" y="58.85" width="10.9" height="6.3500000000000005" fill="#800000"/>
<rect x="908.75" y="53.55" width="9.30" height="9.30" fill="#fff" stroke="#800000" stroke-width="1.6"/><rect x="907.95" y="52.75" width="10.9" height="6.3500000000000005" fill="#800000"/>
<rect x="922.95" y="48.85" width="9.30" height="9.30" fill="#fff" stroke="#800000" stroke-width="1.6"/><rect x="922.15" y="48.05" width="10.9" height="6.3500000000000005" fill="#800000"/>
<rect x="936.85" y="44.95" width="9.30" height="9.30" fill="#fff" stroke="#800000" stroke-width="1.6"/><rect x="936.05" y="44.15" width="10.9" height="6.3500000000000005" fill="#800000"/>
<rect x="954.75" y="42.75" width="9.30" height="9.30" fill="#fff" stroke="#800000" stroke-width="1.6"/><rect x="953.95" y="41.95" width="10.9" height="6.3500000000000005" fill="#800000"/>
<rect x="972.25" y="39.85" width="9.30" height="9.30" fill="#fff" stroke="#800000" stroke-width="1.6"/><rect x="971.45" y="39.05" width="10.9" height="6.3500000000000005" fill="#800000"/>
<rect x="989.85" y="38.65" width="9.30" height="9.30" fill="#fff" stroke="#800000" stroke-width="1.6"/><rect x="989.05" y="37.85" width="10.9" height="6.3500000000000005" fill="#800000"/>
<path d="M123.3,602.8 L137.4,603.0 L151.5,603.1 L165.7,602.9 L179.8,602.7 L193.9,602.5 L208.0,602.6 L222.1,602.8 L236.3,603.0 L250.4,603.1 L264.5,602.9 L278.6,602.7 L292.7,602.5 L306.9,602.6 L321.0,602.8 L335.1,603.0 L349.2,603.1 L363.3,602.9 L377.5,602.7 L391.6,602.5 L405.7,602.6 L419.8,602.8 L433.9,603.0 L448.1,603.1 L472.2,600.4 L486.4,597.0 L500.5,595.0 L514.7,587.2 L528.7,581.8 L542.7,578.3 L564.0,575.4 L574.7,572.5 L588.6,568.1 L603.0,560.3 L613.5,550.8 L631.2,541.5 L645.4,532.4 L663.0,525.2 L673.4,516.1 L687.4,504.4 L705.1,470.4 L715.5,453.6 L733.3,421.8 L747.6,395.0 L761.7,341.8 L779.3,273.2 L793.3,208.7 L814.6,153.3 L824.5,113.9 L838.6,86.9 L853.0,70.2 L867.3,58.6 L881.5,51.0 L896.0,45.1 L910.1,40.6 L924.1,36.1 L938.1,33.1 L952.2,33.1 L969.8,33.1 L987.4,33.1 L995.0,33.1" fill="none" stroke="#00ff00" stroke-width="2.0" stroke-linejoin="round"/>
<path d="M123.3,594.5 L130.8,607.8 L115.8,607.8 Z" fill="#00ff00"/>
<path d="M137.4,594.7 L144.9,608.0 L130.0,608.0 Z" fill="#00ff00"/>
<path d="M151.5,594.8 L159.0,608.1 L144.1,608.1 Z" fill="#00ff00"/>
<path d="M165.7,594.6 L173.1,607.9 L158.2,607.9 Z" fill="#00ff00"/>
<path d="M179.8,594.4 L187.2,607.7 L172.3,607.7 Z" fill="#00ff00"/>
<path d="M193.9,594.2 L201.3,607.5 L186.4,607.5 Z" fill="#00ff00"/>
<path d="M208.0,594.3 L215.5,607.6 L200.6,607.6 Z" fill="#00ff00"/>
<path d="M222.1,594.5 L229.6,607.8 L214.7,607.8 Z" fill="#00ff00"/>
<path d="M236.3,594.7 L243.7,608.0 L228.8,608.0 Z" fill="#00ff00"/>
<path d="M250.4,594.8 L257.8,608.1 L242.9,608.1 Z" fill="#00ff00"/>
<path d="M264.5,594.6 L271.9,607.9 L257.0,607.9 Z" fill="#00ff00"/>
<path d="M278.6,594.4 L286.1,607.7 L271.2,607.7 Z" fill="#00ff00"/>
<path d="M292.7,594.2 L300.2,607.5 L285.3,607.5 Z" fill="#00ff00"/>
<path d="M306.9,594.3 L314.3,607.6 L299.4,607.6 Z" fill="#00ff00"/>
<path d="M321.0,594.5 L328.4,607.8 L313.5,607.8 Z" fill="#00ff00"/>
<path d="M335.1,594.7 L342.5,608.0 L327.6,608.0 Z" fill="#00ff00"/>
<path d="M349.2,594.8 L356.7,608.1 L341.8,608.1 Z" fill="#00ff00"/>
<path d="M363.3,594.6 L370.8,607.9 L355.9,607.9 Z" fill="#00ff00"/>
<path d="M377.5,594.4 L384.9,607.7 L370.0,607.7 Z" fill="#00ff00"/>
<path d="M391.6,594.2 L399.0,607.5 L384.1,607.5 Z" fill="#00ff00"/>
<path d="M405.7,594.3 L413.1,607.6 L398.2,607.6 Z" fill="#00ff00"/>
<path d="M419.8,594.5 L427.3,607.8 L412.4,607.8 Z" fill="#00ff00"/>
<path d="M433.9,594.7 L441.4,608.0 L426.5,608.0 Z" fill="#00ff00"/>
<path d="M448.1,594.8 L455.5,608.1 L440.6,608.1 Z" fill="#00ff00"/>
<path d="M472.2,592.1 L479.6,605.4 L464.8,605.4 Z" fill="#00ff00"/>
<path d="M486.4,588.7 L493.8,602.0 L478.9,602.0 Z" fill="#00ff00"/>
<path d="M500.5,586.7 L507.9,600.0 L493.1,600.0 Z" fill="#00ff00"/>
<path d="M514.7,578.9 L522.2,592.2 L507.3,592.2 Z" fill="#00ff00"/>
<path d="M528.7,573.5 L536.2,586.8 L521.2,586.8 Z" fill="#00ff00"/>
<path d="M542.7,570.0 L550.2,583.3 L535.2,583.3 Z" fill="#00ff00"/>
<path d="M564.0,567.1 L571.5,580.4 L556.5,580.4 Z" fill="#00ff00"/>
<path d="M574.7,564.2 L582.2,577.5 L567.2,577.5 Z" fill="#00ff00"/>
<path d="M588.6,559.8 L596.1,573.1 L581.1,573.1 Z" fill="#00ff00"/>
<path d="M603.0,552.0 L610.5,565.3 L595.5,565.3 Z" fill="#00ff00"/>
<path d="M613.5,542.5 L621.0,555.8 L606.0,555.8 Z" fill="#00ff00"/>
<path d="M631.2,533.2 L638.7,546.5 L623.8,546.5 Z" fill="#00ff00"/>
<path d="M645.4,524.1 L652.9,537.4 L637.9,537.4 Z" fill="#00ff00"/>
<path d="M663.0,516.9 L670.5,530.2 L655.5,530.2 Z" fill="#00ff00"/>
<path d="M673.4,507.8 L680.9,521.1 L665.9,521.1 Z" fill="#00ff00"/>
<path d="M687.4,496.1 L694.9,509.4 L679.9,509.4 Z" fill="#00ff00"/>
<path d="M705.1,462.1 L712.6,475.4 L697.6,475.4 Z" fill="#00ff00"/>
<path d="M715.5,445.3 L723.0,458.6 L708.0,458.6 Z" fill="#00ff00"/>
<path d="M733.3,413.5 L740.8,426.8 L725.8,426.8 Z" fill="#00ff00"/>
<path d="M747.6,386.7 L755.1,400.0 L740.1,400.0 Z" fill="#00ff00"/>
<path d="M761.7,333.5 L769.2,346.8 L754.2,346.8 Z" fill="#00ff00"/>
<path d="M779.3,264.9 L786.8,278.2 L771.8,278.2 Z" fill="#00ff00"/>
<path d="M793.3,200.4 L800.8,213.7 L785.8,213.7 Z" fill="#00ff00"/>
<path d="M814.6,145.0 L822.1,158.3 L807.1,158.3 Z" fill="#00ff00"/>
<path d="M824.5,105.6 L832.0,118.9 L817.0,118.9 Z" fill="#00ff00"/>
<path d="M838.6,78.6 L846.1,91.9 L831.1,91.9 Z" fill="#00ff00"/>
<path d="M853.0,61.9 L860.5,75.2 L845.5,75.2 Z" fill="#00ff00"/>
<path d="M867.3,50.3 L874.8,63.6 L859.8,63.6 Z" fill="#00ff00"/>
<path d="M881.5,42.7 L889.0,56.0 L874.0,56.0 Z" fill="#00ff00"/>
<path d="M896.0,36.8 L903.5,50.1 L888.5,50.1 Z" fill="#00ff00"/>
<path d="M910.1,32.3 L917.6,45.6 L902.6,45.6 Z" fill="#00ff00"/>
<path d="M924.1,27.8 L931.6,41.1 L916.6,41.1 Z" fill="#00ff00"/>
<path d="M938.1,24.8 L945.6,38.1 L930.6,38.1 Z" fill="#00ff00"/>
<path d="M952.2,24.8 L959.7,38.1 L944.8,38.1 Z" fill="#00ff00"/>
<path d="M969.8,24.8 L977.2,38.1 L962.3,38.1 Z" fill="#00ff00"/>
<path d="M987.4,24.8 L994.9,38.1 L979.9,38.1 Z" fill="#00ff00"/>
<path d="M995.0,24.8 L1002.5,38.1 L987.5,38.1 Z" fill="#00ff00"/>
<path d="M118.3,602.5 L132.4,601.7 L146.5,601.8 L160.7,602.6 L174.8,603.3 L188.9,603.1 L203.0,602.2 L217.1,601.6 L231.3,602.0 L245.4,602.9 L259.5,603.3 L273.6,602.9 L287.7,602.0 L301.9,601.6 L316.0,602.2 L330.1,603.1 L344.2,603.3 L358.3,602.6 L372.5,601.8 L386.6,601.7 L400.7,602.5 L414.8,603.2 L428.9,603.2 L443.1,602.3 L457.2,601.7 L471.3,601.9 L485.4,602.8 L499.5,603.3 L513.7,603.0 L527.8,602.1 L541.9,601.6 L556.0,602.1 L570.1,603.0 L584.3,603.3 L598.4,602.7 L620.8,600.0 L634.8,595.8 L645.5,595.3 L659.4,593.8 L673.6,593.0 L687.5,592.5 L701.6,591.4 L719.2,590.7 L733.3,587.5 L747.3,584.4 L761.4,578.9 L775.5,569.6 L789.8,559.9 L803.8,550.4 L818.1,541.0 L832.1,535.6 L846.3,531.1 L860.3,527.6 L874.6,524.3 L888.6,521.4 L902.9,513.6 L917.1,506.0 L931.1,498.5 L945.4,489.9 L959.4,481.3 L973.7,472.9 L987.7,461.1 L1001.7,449.0" fill="none" stroke="#008000" stroke-width="2.0" stroke-linejoin="round"/>
<path d="M118.3,594.2 L125.8,607.5 L110.8,607.5 Z" fill="#008000"/><path d="M114.76,603.58 L121.84,603.58 L122.96,605.58 L113.64,605.58 Z" fill="#fff"/>
<path d="M132.4,593.4 L139.9,606.7 L125.0,606.7 Z" fill="#008000"/><path d="M128.88,602.82 L135.96,602.82 L137.08,604.82 L127.76,604.82 Z" fill="#fff"/>
<path d="M146.5,593.5 L154.0,606.8 L139.1,606.8 Z" fill="#008000"/><path d="M143.00,602.89 L150.08,602.89 L151.20,604.89 L141.88,604.89 Z" fill="#fff"/>
<path d="M160.7,594.3 L168.1,607.6 L153.2,607.6 Z" fill="#008000"/><path d="M157.12,603.72 L164.20,603.72 L165.32,605.72 L156.00,605.72 Z" fill="#fff"/>
<path d="M174.8,595.0 L182.2,608.3 L167.3,608.3 Z" fill="#008000"/><path d="M171.24,604.40 L178.32,604.40 L179.44,606.40 L170.12,606.40 Z" fill="#fff"/>
<path d="M188.9,594.8 L196.3,608.1 L181.4,608.1 Z" fill="#008000"/><path d="M185.36,604.19 L192.44,604.19 L193.56,606.19 L184.24,606.19 Z" fill="#fff"/>
<path d="M203.0,593.9 L210.5,607.2 L195.6,607.2 Z" fill="#008000"/><path d="M199.48,603.32 L206.56,603.32 L207.68,605.32 L198.36,605.32 Z" fill="#fff"/>
<path d="M217.1,593.3 L224.6,606.6 L209.7,606.6 Z" fill="#008000"/><path d="M213.60,602.74 L220.68,602.74 L221.80,604.74 L212.48,604.74 Z" fill="#fff"/>
<path d="M231.3,593.7 L238.7,607.0 L223.8,607.0 Z" fill="#008000"/><path d="M227.72,603.09 L234.80,603.09 L235.92,605.09 L226.60,605.09 Z" fill="#fff"/>
<path d="M245.4,594.6 L252.8,607.9 L237.9,607.9 Z" fill="#008000"/><path d="M241.84,603.97 L248.92,603.97 L250.04,605.97 L240.72,605.97 Z" fill="#fff"/>
<path d="M259.5,595.0 L266.9,608.3 L252.0,608.3 Z" fill="#008000"/><path d="M255.96,604.44 L263.04,604.44 L264.16,606.44 L254.84,606.44 Z" fill="#fff"/>
<path d="M273.6,594.6 L281.1,607.9 L266.2,607.9 Z" fill="#008000"/><path d="M270.08,603.97 L277.16,603.97 L278.28,605.97 L268.96,605.97 Z" fill="#fff"/>
<path d="M287.7,593.7 L295.2,607.0 L280.3,607.0 Z" fill="#008000"/><path d="M284.20,603.08 L291.28,603.08 L292.40,605.08 L283.08,605.08 Z" fill="#fff"/>
<path d="M301.9,593.3 L309.3,606.6 L294.4,606.6 Z" fill="#008000"/><path d="M298.32,602.74 L305.40,602.74 L306.52,604.74 L297.20,604.74 Z" fill="#fff"/>
<path d="M316.0,593.9 L323.4,607.2 L308.5,607.2 Z" fill="#008000"/><path d="M312.44,603.33 L319.52,603.33 L320.64,605.33 L311.32,605.33 Z" fill="#fff"/>
<path d="M330.1,594.8 L337.5,608.1 L322.6,608.1 Z" fill="#008000"/><path d="M326.56,604.19 L333.64,604.19 L334.76,606.19 L325.44,606.19 Z" fill="#fff"/>
<path d="M344.2,595.0 L351.7,608.3 L336.8,608.3 Z" fill="#008000"/><path d="M340.68,604.39 L347.76,604.39 L348.88,606.39 L339.56,606.39 Z" fill="#fff"/>
<path d="M358.3,594.3 L365.8,607.6 L350.9,607.6 Z" fill="#008000"/><path d="M354.80,603.71 L361.88,603.71 L363.00,605.71 L353.68,605.71 Z" fill="#fff"/>
<path d="M372.5,593.5 L379.9,606.8 L365.0,606.8 Z" fill="#008000"/><path d="M368.92,602.89 L376.00,602.89 L377.12,604.89 L367.80,604.89 Z" fill="#fff"/>
<path d="M386.6,593.4 L394.0,606.7 L379.1,606.7 Z" fill="#008000"/><path d="M383.04,602.83 L390.12,602.83 L391.24,604.83 L381.92,604.83 Z" fill="#fff"/>
<path d="M400.7,594.2 L408.1,607.5 L393.2,607.5 Z" fill="#008000"/><path d="M397.16,603.59 L404.24,603.59 L405.36,605.59 L396.04,605.59 Z" fill="#fff"/>
<path d="M414.8,594.9 L422.3,608.2 L407.4,608.2 Z" fill="#008000"/><path d="M411.28,604.35 L418.36,604.35 L419.48,606.35 L410.16,606.35 Z" fill="#fff"/>
<path d="M428.9,594.9 L436.4,608.2 L421.5,608.2 Z" fill="#008000"/><path d="M425.40,604.27 L432.48,604.27 L433.60,606.27 L424.28,606.27 Z" fill="#fff"/>
<path d="M443.1,594.0 L450.5,607.3 L435.6,607.3 Z" fill="#008000"/><path d="M439.52,603.44 L446.60,603.44 L447.72,605.44 L438.40,605.44 Z" fill="#fff"/>
<path d="M457.2,593.4 L464.6,606.7 L449.7,606.7 Z" fill="#008000"/><path d="M453.64,602.77 L460.72,602.77 L461.84,604.77 L452.52,604.77 Z" fill="#fff"/>
<path d="M471.3,593.6 L478.7,606.9 L463.8,606.9 Z" fill="#008000"/><path d="M467.76,602.99 L474.84,602.99 L475.96,604.99 L466.64,604.99 Z" fill="#fff"/>
<path d="M485.4,594.5 L492.9,607.8 L478.0,607.8 Z" fill="#008000"/><path d="M481.88,603.86 L488.96,603.86 L490.08,605.86 L480.76,605.86 Z" fill="#fff"/>
<path d="M499.5,595.0 L507.0,608.3 L492.1,608.3 Z" fill="#008000"/><path d="M496.00,604.43 L503.08,604.43 L504.20,606.43 L494.88,606.43 Z" fill="#fff"/>
<path d="M513.7,594.7 L521.1,608.0 L506.2,608.0 Z" fill="#008000"/><path d="M510.12,604.08 L517.20,604.08 L518.32,606.08 L509.00,606.08 Z" fill="#fff"/>
<path d="M527.8,593.8 L535.2,607.1 L520.3,607.1 Z" fill="#008000"/><path d="M524.24,603.19 L531.32,603.19 L532.44,605.19 L523.12,605.19 Z" fill="#fff"/>
<path d="M541.9,593.3 L549.3,606.6 L534.4,606.6 Z" fill="#008000"/><path d="M538.36,602.73 L545.44,602.73 L546.56,604.73 L537.24,604.73 Z" fill="#fff"/>
<path d="M556.0,593.8 L563.5,607.1 L548.6,607.1 Z" fill="#008000"/><path d="M552.48,603.21 L559.56,603.21 L560.68,605.21 L551.36,605.21 Z" fill="#fff"/>
<path d="M570.1,594.7 L577.6,608.0 L562.7,608.0 Z" fill="#008000"/><path d="M566.60,604.10 L573.68,604.10 L574.80,606.10 L565.48,606.10 Z" fill="#fff"/>
<path d="M584.3,595.0 L591.7,608.3 L576.8,608.3 Z" fill="#008000"/><path d="M580.72,604.42 L587.80,604.42 L588.92,606.42 L579.60,606.42 Z" fill="#fff"/>
<path d="M598.4,594.4 L605.8,607.7 L590.9,607.7 Z" fill="#008000"/><path d="M594.84,603.84 L601.92,603.84 L603.04,605.84 L593.72,605.84 Z" fill="#fff"/>
<path d="M620.8,591.7 L628.2,605.0 L613.3,605.0 Z" fill="#008000"/><path d="M617.26,601.10 L624.34,601.10 L625.46,603.10 L616.14,603.10 Z" fill="#fff"/>
<path d="M634.8,587.5 L642.2,600.8 L627.3,600.8 Z" fill="#008000"/><path d="M631.26,596.90 L638.34,596.90 L639.46,598.90 L630.14,598.90 Z" fill="#fff"/>
<path d="M645.5,587.0 L653.0,600.3 L638.0,600.3 Z" fill="#008000"/><path d="M641.96,596.40 L649.04,596.40 L650.16,598.40 L640.84,598.40 Z" fill="#fff"/>
<path d="M659.4,585.5 L666.9,598.8 L651.9,598.8 Z" fill="#008000"/><path d="M655.86,594.90 L662.94,594.90 L664.06,596.90 L654.74,596.90 Z" fill="#fff"/>
<path d="M673.6,584.7 L681.1,598.0 L666.1,598.0 Z" fill="#008000"/><path d="M670.06,594.10 L677.14,594.10 L678.26,596.10 L668.94,596.10 Z" fill="#fff"/>
<path d="M687.5,584.2 L695.0,597.5 L680.0,597.5 Z" fill="#008000"/><path d="M683.96,593.60 L691.04,593.60 L692.16,595.60 L682.84,595.60 Z" fill="#fff"/>
<path d="M701.6,583.1 L709.1,596.4 L694.1,596.4 Z" fill="#008000"/><path d="M698.06,592.50 L705.14,592.50 L706.26,594.50 L696.94,594.50 Z" fill="#fff"/>
<path d="M719.2,582.4 L726.7,595.7 L711.8,595.7 Z" fill="#008000"/><path d="M715.66,591.80 L722.74,591.80 L723.86,593.80 L714.54,593.80 Z" fill="#fff"/>
<path d="M733.3,579.2 L740.8,592.5 L725.8,592.5 Z" fill="#008000"/><path d="M729.76,588.60 L736.84,588.60 L737.96,590.60 L728.64,590.60 Z" fill="#fff"/>
<path d="M747.3,576.1 L754.8,589.4 L739.8,589.4 Z" fill="#008000"/><path d="M743.76,585.50 L750.84,585.50 L751.96,587.50 L742.64,587.50 Z" fill="#fff"/>
<path d="M761.4,570.6 L768.9,583.9 L753.9,583.9 Z" fill="#008000"/><path d="M757.86,580.00 L764.94,580.00 L766.06,582.00 L756.74,582.00 Z" fill="#fff"/>
<path d="M775.5,561.3 L783.0,574.6 L768.0,574.6 Z" fill="#008000"/><path d="M771.96,570.70 L779.04,570.70 L780.16,572.70 L770.84,572.70 Z" fill="#fff"/>
<path d="M789.8,551.6 L797.2,564.9 L782.3,564.9 Z" fill="#008000"/><path d="M786.26,561.00 L793.34,561.00 L794.46,563.00 L785.14,563.00 Z" fill="#fff"/>
<path d="M803.8,542.1 L811.2,555.4 L796.3,555.4 Z" fill="#008000"/><path d="M800.26,551.50 L807.34,551.50 L808.46,553.50 L799.14,553.50 Z" fill="#fff"/>
<path d="M818.1,532.7 L825.6,546.0 L810.6,546.0 Z" fill="#008000"/><path d="M814.56,542.10 L821.64,542.10 L822.76,544.10 L813.44,544.10 Z" fill="#fff"/>
<path d="M832.1,527.3 L839.6,540.6 L824.6,540.6 Z" fill="#008000"/><path d="M828.56,536.70 L835.64,536.70 L836.76,538.70 L827.44,538.70 Z" fill="#fff"/>
<path d="M846.3,522.8 L853.8,536.1 L838.8,536.1 Z" fill="#008000"/><path d="M842.76,532.20 L849.84,532.20 L850.96,534.20 L841.64,534.20 Z" fill="#fff"/>
<path d="M860.3,519.3 L867.8,532.6 L852.8,532.6 Z" fill="#008000"/><path d="M856.76,528.70 L863.84,528.70 L864.96,530.70 L855.64,530.70 Z" fill="#fff"/>
<path d="M874.6,516.0 L882.1,529.3 L867.1,529.3 Z" fill="#008000"/><path d="M871.06,525.40 L878.14,525.40 L879.26,527.40 L869.94,527.40 Z" fill="#fff"/>
<path d="M888.6,513.1 L896.1,526.4 L881.1,526.4 Z" fill="#008000"/><path d="M885.06,522.50 L892.14,522.50 L893.26,524.50 L883.94,524.50 Z" fill="#fff"/>
<path d="M902.9,505.3 L910.4,518.6 L895.4,518.6 Z" fill="#008000"/><path d="M899.36,514.70 L906.44,514.70 L907.56,516.70 L898.24,516.70 Z" fill="#fff"/>
<path d="M917.1,497.7 L924.6,511.0 L909.6,511.0 Z" fill="#008000"/><path d="M913.56,507.10 L920.64,507.10 L921.76,509.10 L912.44,509.10 Z" fill="#fff"/>
<path d="M931.1,490.2 L938.6,503.5 L923.6,503.5 Z" fill="#008000"/><path d="M927.56,499.60 L934.64,499.60 L935.76,501.60 L926.44,501.60 Z" fill="#fff"/>
<path d="M945.4,481.6 L952.9,494.9 L937.9,494.9 Z" fill="#008000"/><path d="M941.86,491.00 L948.94,491.00 L950.06,493.00 L940.74,493.00 Z" fill="#fff"/>
<path d="M959.4,473.0 L966.9,486.3 L951.9,486.3 Z" fill="#008000"/><path d="M955.86,482.40 L962.94,482.40 L964.06,484.40 L954.74,484.40 Z" fill="#fff"/>
<path d="M973.7,464.6 L981.2,477.9 L966.2,477.9 Z" fill="#008000"/><path d="M970.16,474.00 L977.24,474.00 L978.36,476.00 L969.04,476.00 Z" fill="#fff"/>
<path d="M987.7,452.8 L995.2,466.1 L980.2,466.1 Z" fill="#008000"/><path d="M984.16,462.20 L991.24,462.20 L992.36,464.20 L983.04,464.20 Z" fill="#fff"/>
<path d="M1001.7,440.7 L1009.2,454.0 L994.2,454.0 Z" fill="#008000"/><path d="M998.16,450.10 L1005.24,450.10 L1006.36,452.10 L997.04,452.10 Z" fill="#fff"/>
<path d="M119.4,602.3 L136.8,602.7 L147.6,602.1 L165.0,602.1 L179.1,602.7 L193.5,602.3 L204.4,601.9 L218.8,602.6 L231.1,602.5 L246.1,601.9 L260.5,602.4 L272.8,602.7 L286.5,602.0 L299.5,602.1 L312.1,602.7 L325.7,602.2 L340.1,602.0 L351.6,602.6 L366.0,602.4 L378.6,601.9 L392.2,602.4 L406.6,602.6 L418.1,602.0 L432.5,602.2 L445.1,602.7 L458.7,602.2 L473.1,602.0 L484.6,602.6 L499.0,602.4 L511.6,601.9 L525.2,602.5 L539.6,602.6 L551.1,601.9 L565.5,602.2 L578.1,602.7 L591.7,602.1 L606.1,602.0 L617.6,602.7 L632.0,602.3 L644.6,601.9 L658.2,602.5 L672.6,602.5 L691.2,600.4 L704.6,599.2 L715.5,598.5 L730.4,597.0 L743.3,595.9 L757.5,595.3 L772.0,594.5 L783.8,592.2 L797.2,590.6 L811.0,589.1 L828.6,583.9 L835.9,581.2 L849.6,579.3 L860.5,577.6 L874.5,568.4 L892.3,559.0 L906.3,555.2 L916.9,545.7 L931.1,539.0 L941.8,534.0 L952.7,520.7 L969.3,508.9 L980.4,498.6 L988.0,487.6 L1001.8,467.0" fill="none" stroke="#800080" stroke-width="2.0" stroke-linejoin="round"/>
<path d="M119.4,594.2 L127.2,602.5 L119.4,610.8 L111.6,602.5 Z" fill="#800080"/>
<path d="M136.8,594.6 L144.6,602.9 L136.8,611.2 L129.0,602.9 Z" fill="#800080"/>
<path d="M147.6,594.0 L155.4,602.3 L147.6,610.6 L139.8,602.3 Z" fill="#800080"/>
<path d="M165.0,594.0 L172.8,602.3 L165.0,610.6 L157.2,602.3 Z" fill="#800080"/>
<path d="M179.1,594.6 L186.9,602.9 L179.1,611.2 L171.3,602.9 Z" fill="#800080"/>
<path d="M193.5,594.2 L201.3,602.5 L193.5,610.8 L185.7,602.5 Z" fill="#800080"/>
<path d="M204.4,593.8 L212.2,602.1 L204.4,610.4 L196.6,602.1 Z" fill="#800080"/>
<path d="M218.8,594.5 L226.6,602.8 L218.8,611.1 L211.0,602.8 Z" fill="#800080"/>
<path d="M231.1,594.4 L238.9,602.7 L231.1,611.0 L223.3,602.7 Z" fill="#800080"/>
<path d="M246.1,593.8 L253.9,602.1 L246.1,610.4 L238.3,602.1 Z" fill="#800080"/>
<path d="M260.5,594.3 L268.3,602.6 L260.5,610.9 L252.7,602.6 Z" fill="#800080"/>
<path d="M272.8,594.6 L280.6,602.9 L272.8,611.2 L265.0,602.9 Z" fill="#800080"/>
<path d="M286.5,593.9 L294.3,602.2 L286.5,610.5 L278.7,602.2 Z" fill="#800080"/>
<path d="M299.5,594.0 L307.3,602.3 L299.5,610.6 L291.7,602.3 Z" fill="#800080"/>
<path d="M312.1,594.6 L319.9,602.9 L312.1,611.2 L304.3,602.9 Z" fill="#800080"/>
<path d="M325.7,594.1 L333.5,602.4 L325.7,610.7 L317.9,602.4 Z" fill="#800080"/>
<path d="M340.1,593.9 L347.9,602.2 L340.1,610.5 L332.3,602.2 Z" fill="#800080"/>
<path d="M351.6,594.5 L359.4,602.8 L351.6,611.1 L343.8,602.8 Z" fill="#800080"/>
<path d="M366.0,594.3 L373.8,602.6 L366.0,610.9 L358.2,602.6 Z" fill="#800080"/>
<path d="M378.6,593.8 L386.4,602.1 L378.6,610.4 L370.8,602.1 Z" fill="#800080"/>
<path d="M392.2,594.3 L400.0,602.6 L392.2,610.9 L384.4,602.6 Z" fill="#800080"/>
<path d="M406.6,594.5 L414.4,602.8 L406.6,611.1 L398.8,602.8 Z" fill="#800080"/>
<path d="M418.1,593.9 L425.9,602.2 L418.1,610.5 L410.3,602.2 Z" fill="#800080"/>
<path d="M432.5,594.1 L440.3,602.4 L432.5,610.7 L424.7,602.4 Z" fill="#800080"/>
<path d="M445.1,594.6 L452.9,602.9 L445.1,611.2 L437.3,602.9 Z" fill="#800080"/>
<path d="M458.7,594.1 L466.5,602.4 L458.7,610.7 L450.9,602.4 Z" fill="#800080"/>
<path d="M473.1,593.9 L480.9,602.2 L473.1,610.5 L465.3,602.2 Z" fill="#800080"/>
<path d="M484.6,594.5 L492.4,602.8 L484.6,611.1 L476.8,602.8 Z" fill="#800080"/>
<path d="M499.0,594.3 L506.8,602.6 L499.0,610.9 L491.2,602.6 Z" fill="#800080"/>
<path d="M511.6,593.8 L519.4,602.1 L511.6,610.4 L503.8,602.1 Z" fill="#800080"/>
<path d="M525.2,594.4 L533.0,602.7 L525.2,611.0 L517.4,602.7 Z" fill="#800080"/>
<path d="M539.6,594.5 L547.4,602.8 L539.6,611.1 L531.8,602.8 Z" fill="#800080"/>
<path d="M551.1,593.8 L558.9,602.1 L551.1,610.4 L543.3,602.1 Z" fill="#800080"/>
<path d="M565.5,594.1 L573.3,602.4 L565.5,610.7 L557.7,602.4 Z" fill="#800080"/>
<path d="M578.1,594.6 L585.9,602.9 L578.1,611.2 L570.3,602.9 Z" fill="#800080"/>
<path d="M591.7,594.0 L599.5,602.3 L591.7,610.6 L583.9,602.3 Z" fill="#800080"/>
<path d="M606.1,593.9 L613.9,602.2 L606.1,610.5 L598.3,602.2 Z" fill="#800080"/>
<path d="M617.6,594.6 L625.4,602.9 L617.6,611.2 L609.8,602.9 Z" fill="#800080"/>
<path d="M632.0,594.2 L639.8,602.5 L632.0,610.8 L624.2,602.5 Z" fill="#800080"/>
<path d="M644.6,593.8 L652.4,602.1 L644.6,610.4 L636.8,602.1 Z" fill="#800080"/>
<path d="M658.2,594.4 L666.0,602.7 L658.2,611.0 L650.4,602.7 Z" fill="#800080"/>
<path d="M672.6,594.4 L680.4,602.7 L672.6,611.0 L664.8,602.7 Z" fill="#800080"/>
<path d="M691.2,592.3 L699.0,600.6 L691.2,608.9 L683.4,600.6 Z" fill="#800080"/>
<path d="M704.6,591.1 L712.4,599.4 L704.6,607.7 L696.8,599.4 Z" fill="#800080"/>
<path d="M715.5,590.4 L723.3,598.7 L715.5,607.0 L707.7,598.7 Z" fill="#800080"/>
<path d="M730.4,588.9 L738.2,597.2 L730.4,605.5 L722.6,597.2 Z" fill="#800080"/>
<path d="M743.3,587.8 L751.1,596.1 L743.3,604.4 L735.5,596.1 Z" fill="#800080"/>
<path d="M757.5,587.2 L765.3,595.5 L757.5,603.8 L749.7,595.5 Z" fill="#800080"/>
<path d="M772.0,586.4 L779.8,594.7 L772.0,603.0 L764.2,594.7 Z" fill="#800080"/>
<path d="M783.8,584.1 L791.5,592.4 L783.8,600.7 L776.0,592.4 Z" fill="#800080"/>
<path d="M797.2,582.5 L805.0,590.8 L797.2,599.1 L789.4,590.8 Z" fill="#800080"/>
<path d="M811.0,581.0 L818.8,589.3 L811.0,597.6 L803.2,589.3 Z" fill="#800080"/>
<path d="M828.6,575.8 L836.4,584.1 L828.6,592.4 L820.8,584.1 Z" fill="#800080"/>
<path d="M835.9,573.1 L843.7,581.4 L835.9,589.7 L828.1,581.4 Z" fill="#800080"/>
<path d="M849.6,571.2 L857.4,579.5 L849.6,587.8 L841.8,579.5 Z" fill="#800080"/>
<path d="M860.5,569.5 L868.3,577.8 L860.5,586.1 L852.7,577.8 Z" fill="#800080"/>
<path d="M874.5,560.3 L882.3,568.6 L874.5,576.9 L866.7,568.6 Z" fill="#800080"/>
<path d="M892.3,550.9 L900.1,559.2 L892.3,567.5 L884.5,559.2 Z" fill="#800080"/>
<path d="M906.3,547.1 L914.1,555.4 L906.3,563.7 L898.5,555.4 Z" fill="#800080"/>
<path d="M916.9,537.6 L924.7,545.9 L916.9,554.2 L909.1,545.9 Z" fill="#800080"/>
<path d="M931.1,530.9 L938.9,539.2 L931.1,547.5 L923.3,539.2 Z" fill="#800080"/>
<path d="M941.8,525.9 L949.6,534.2 L941.8,542.5 L934.0,534.2 Z" fill="#800080"/>
<path d="M952.7,512.6 L960.5,520.9 L952.7,529.2 L944.9,520.9 Z" fill="#800080"/>
<path d="M969.3,500.8 L977.1,509.1 L969.3,517.4 L961.5,509.1 Z" fill="#800080"/>
<path d="M980.4,490.5 L988.2,498.8 L980.4,507.1 L972.6,498.8 Z" fill="#800080"/>
<path d="M988.0,479.5 L995.8,487.8 L988.0,496.1 L980.2,487.8 Z" fill="#800080"/>
<path d="M1001.8,458.9 L1009.6,467.2 L1001.8,475.5 L994.0,467.2 Z" fill="#800080"/>
<path d="M112.3,600.2 L129.9,600.2 L137.0,600.2 L144.0,600.2 L151.1,600.2 L158.1,600.2 L165.2,600.2 L172.3,600.2 L179.3,600.2 L186.4,600.2 L193.4,600.2 L200.5,600.2 L207.6,600.2 L214.6,600.2 L221.7,600.2 L228.7,600.2 L235.8,600.2 L242.9,600.2 L249.9,600.2 L257.0,600.2 L264.0,600.2 L271.1,600.2 L278.2,600.2 L285.2,600.2 L292.3,600.2 L299.3,600.2 L306.4,600.2 L313.5,600.2 L320.5,600.2 L327.6,600.2 L334.6,600.2 L341.7,600.2 L348.8,600.2 L355.8,600.2 L362.9,600.2 L369.9,600.2 L377.0,600.2 L384.1,600.2 L391.1,600.2 L398.2,600.2 L405.2,600.2 L412.3,600.2 L419.4,600.2 L426.4,600.2 L433.5,600.2 L440.5,600.2 L447.6,600.2 L454.7,600.2 L461.7,600.2 L468.8,600.2 L475.8,600.2 L482.9,600.2 L490.0,600.2 L497.0,600.2 L504.1,600.2 L511.1,600.2 L518.2,600.2 L525.3,600.2 L532.3,600.2 L539.4,600.2 L546.4,600.2 L553.5,600.2 L560.6,600.2 L567.6,600.2 L574.7,600.2 L581.7,600.2 L588.8,600.2 L595.9,600.2 L602.9,600.2 L610.0,600.2 L617.0,600.2 L624.1,600.2 L631.2,600.2 L638.2,600.2 L645.3,600.1 L652.3,600.0 L659.4,599.8 L666.5,599.7 L673.5,599.5 L680.6,599.4 L687.6,599.2 L694.7,599.1 L701.8,598.9 L708.8,598.6 L715.9,598.3 L722.9,597.9 L730.0,597.6 L737.1,597.3 L744.1,597.0 L751.2,596.3 L758.2,595.5 L765.3,594.8 L772.4,594.1 L779.4,593.3 L786.5,592.6 L796.8,591.0 L807.6,590.0 L814.4,589.2 L821.7,588.1 L835.9,585.8 L849.6,583.7 L857.4,582.2 L871.1,578.8 L885.3,575.8 L895.8,573.8 L905.8,571.1 L913.4,568.8 L920.4,566.8 L930.4,563.5 L937.4,561.2 L945.0,558.2 L952.1,555.1 L962.6,551.6 L969.7,548.5 L976.7,544.8 L984.3,540.1 L991.3,535.4 L998.5,531.0" fill="none" stroke="#8000ff" stroke-width="2.0" stroke-linejoin="round"/>
<path d="M112.3,593.5 L118.5,600.4 L112.3,607.4 L106.0,600.4 Z" fill="#fff" stroke="#8000ff" stroke-width="1.6"/><path d="M112.3,592.3 L119.7,600.4 L119.0,601.1 L105.6,601.1 L104.9,600.4 Z" fill="#8000ff"/>
<path d="M129.9,593.5 L136.2,600.4 L129.9,607.4 L123.7,600.4 Z" fill="#fff" stroke="#8000ff" stroke-width="1.6"/><path d="M129.9,592.3 L137.3,600.4 L136.6,601.1 L123.2,601.1 L122.5,600.4 Z" fill="#8000ff"/>
<path d="M137.0,593.5 L143.2,600.4 L137.0,607.4 L130.7,600.4 Z" fill="#fff" stroke="#8000ff" stroke-width="1.6"/><path d="M137.0,592.3 L144.4,600.4 L143.7,601.1 L130.3,601.1 L129.6,600.4 Z" fill="#8000ff"/>
<path d="M144.0,593.5 L150.3,600.4 L144.0,607.4 L137.8,600.4 Z" fill="#fff" stroke="#8000ff" stroke-width="1.6"/><path d="M144.0,592.3 L151.4,600.4 L150.7,601.1 L137.3,601.1 L136.6,600.4 Z" fill="#8000ff"/>
<path d="M151.1,593.5 L157.3,600.4 L151.1,607.4 L144.8,600.4 Z" fill="#fff" stroke="#8000ff" stroke-width="1.6"/><path d="M151.1,592.3 L158.5,600.4 L157.8,601.1 L144.4,601.1 L143.7,600.4 Z" fill="#8000ff"/>
<path d="M158.1,593.5 L164.4,600.4 L158.1,607.4 L151.9,600.4 Z" fill="#fff" stroke="#8000ff" stroke-width="1.6"/><path d="M158.1,592.3 L165.5,600.4 L164.8,601.1 L151.4,601.1 L150.7,600.4 Z" fill="#8000ff"/>
<path d="M165.2,593.5 L171.5,600.4 L165.2,607.4 L159.0,600.4 Z" fill="#fff" stroke="#8000ff" stroke-width="1.6"/><path d="M165.2,592.3 L172.6,600.4 L171.9,601.1 L158.5,601.1 L157.8,600.4 Z" fill="#8000ff"/>
<path d="M172.3,593.5 L178.5,600.4 L172.3,607.4 L166.0,600.4 Z" fill="#fff" stroke="#8000ff" stroke-width="1.6"/><path d="M172.3,592.3 L179.7,600.4 L179.0,601.1 L165.6,601.1 L164.9,600.4 Z" fill="#8000ff"/>
<path d="M179.3,593.5 L185.6,600.4 L179.3,607.4 L173.1,600.4 Z" fill="#fff" stroke="#8000ff" stroke-width="1.6"/><path d="M179.3,592.3 L186.7,600.4 L186.0,601.1 L172.6,601.1 L171.9,600.4 Z" fill="#8000ff"/>
<path d="M186.4,593.5 L192.6,600.4 L186.4,607.4 L180.1,600.4 Z" fill="#fff" stroke="#8000ff" stroke-width="1.6"/><path d="M186.4,592.3 L193.8,600.4 L193.1,601.1 L179.7,601.1 L179.0,600.4 Z" fill="#8000ff"/>
<path d="M193.4,593.5 L199.7,600.4 L193.4,607.4 L187.2,600.4 Z" fill="#fff" stroke="#8000ff" stroke-width="1.6"/><path d="M193.4,592.3 L200.8,600.4 L200.1,601.1 L186.7,601.1 L186.0,600.4 Z" fill="#8000ff"/>
<path d="M200.5,593.5 L206.8,600.4 L200.5,607.4 L194.3,600.4 Z" fill="#fff" stroke="#8000ff" stroke-width="1.6"/><path d="M200.5,592.3 L207.9,600.4 L207.2,601.1 L193.8,601.1 L193.1,600.4 Z" fill="#8000ff"/>
<path d="M207.6,593.5 L213.8,600.4 L207.6,607.4 L201.3,600.4 Z" fill="#fff" stroke="#8000ff" stroke-width="1.6"/><path d="M207.6,592.3 L215.0,600.4 L214.3,601.1 L200.9,601.1 L200.2,600.4 Z" fill="#8000ff"/>
<path d="M214.6,593.5 L220.9,600.4 L214.6,607.4 L208.4,600.4 Z" fill="#fff" stroke="#8000ff" stroke-width="1.6"/><path d="M214.6,592.3 L222.0,600.4 L221.3,601.1 L207.9,601.1 L207.2,600.4 Z" fill="#8000ff"/>
<path d="M221.7,593.5 L227.9,600.4 L221.7,607.4 L215.4,600.4 Z" fill="#fff" stroke="#8000ff" stroke-width="1.6"/><path d="M221.7,592.3 L229.1,600.4 L228.4,601.1 L215.0,601.1 L214.3,600.4 Z" fill="#8000ff"/>
<path d="M228.7,593.5 L235.0,600.4 L228.7,607.4 L222.5,600.4 Z" fill="#fff" stroke="#8000ff" stroke-width="1.6"/><path d="M228.7,592.3 L236.1,600.4 L235.4,601.1 L222.0,601.1 L221.3,600.4 Z" fill="#8000ff"/>
<path d="M235.8,593.5 L242.1,600.4 L235.8,607.4 L229.6,600.4 Z" fill="#fff" stroke="#8000ff" stroke-width="1.6"/><path d="M235.8,592.3 L243.2,600.4 L242.5,601.1 L229.1,601.1 L228.4,600.4 Z" fill="#8000ff"/>
<path d="M242.9,593.5 L249.1,600.4 L242.9,607.4 L236.6,600.4 Z" fill="#fff" stroke="#8000ff" stroke-width="1.6"/><path d="M242.9,592.3 L250.3,600.4 L249.6,601.1 L236.2,601.1 L235.5,600.4 Z" fill="#8000ff"/>
<path d="M249.9,593.5 L256.2,600.4 L249.9,607.4 L243.7,600.4 Z" fill="#fff" stroke="#8000ff" stroke-width="1.6"/><path d="M249.9,592.3 L257.3,600.4 L256.6,601.1 L243.2,601.1 L242.5,600.4 Z" fill="#8000ff"/>
<path d="M257.0,593.5 L263.2,600.4 L257.0,607.4 L250.7,600.4 Z" fill="#fff" stroke="#8000ff" stroke-width="1.6"/><path d="M257.0,592.3 L264.4,600.4 L263.7,601.1 L250.3,601.1 L249.6,600.4 Z" fill="#8000ff"/>
<path d="M264.0,593.5 L270.3,600.4 L264.0,607.4 L257.8,600.4 Z" fill="#fff" stroke="#8000ff" stroke-width="1.6"/><path d="M264.0,592.3 L271.4,600.4 L270.7,601.1 L257.3,601.1 L256.6,600.4 Z" fill="#8000ff"/>
<path d="M271.1,593.5 L277.4,600.4 L271.1,607.4 L264.9,600.4 Z" fill="#fff" stroke="#8000ff" stroke-width="1.6"/><path d="M271.1,592.3 L278.5,600.4 L277.8,601.1 L264.4,601.1 L263.7,600.4 Z" fill="#8000ff"/>
<path d="M278.2,593.5 L284.4,600.4 L278.2,607.4 L271.9,600.4 Z" fill="#fff" stroke="#8000ff" stroke-width="1.6"/><path d="M278.2,592.3 L285.6,600.4 L284.9,601.1 L271.5,601.1 L270.8,600.4 Z" fill="#8000ff"/>
<path d="M285.2,593.5 L291.5,600.4 L285.2,607.4 L279.0,600.4 Z" fill="#fff" stroke="#8000ff" stroke-width="1.6"/><path d="M285.2,592.3 L292.6,600.4 L291.9,601.1 L278.5,601.1 L277.8,600.4 Z" fill="#8000ff"/>
<path d="M292.3,593.5 L298.5,600.4 L292.3,607.4 L286.0,600.4 Z" fill="#fff" stroke="#8000ff" stroke-width="1.6"/><path d="M292.3,592.3 L299.7,600.4 L299.0,601.1 L285.6,601.1 L284.9,600.4 Z" fill="#8000ff"/>
<path d="M299.3,593.5 L305.6,600.4 L299.3,607.4 L293.1,600.4 Z" fill="#fff" stroke="#8000ff" stroke-width="1.6"/><path d="M299.3,592.3 L306.7,600.4 L306.0,601.1 L292.6,601.1 L291.9,600.4 Z" fill="#8000ff"/>
<path d="M306.4,593.5 L312.7,600.4 L306.4,607.4 L300.2,600.4 Z" fill="#fff" stroke="#8000ff" stroke-width="1.6"/><path d="M306.4,592.3 L313.8,600.4 L313.1,601.1 L299.7,601.1 L299.0,600.4 Z" fill="#8000ff"/>
<path d="M313.5,593.5 L319.7,600.4 L313.5,607.4 L307.2,600.4 Z" fill="#fff" stroke="#8000ff" stroke-width="1.6"/><path d="M313.5,592.3 L320.9,600.4 L320.2,601.1 L306.8,601.1 L306.1,600.4 Z" fill="#8000ff"/>
<path d="M320.5,593.5 L326.8,600.4 L320.5,607.4 L314.3,600.4 Z" fill="#fff" stroke="#8000ff" stroke-width="1.6"/><path d="M320.5,592.3 L327.9,600.4 L327.2,601.1 L313.8,601.1 L313.1,600.4 Z" fill="#8000ff"/>
<path d="M327.6,593.5 L333.8,600.4 L327.6,607.4 L321.3,600.4 Z" fill="#fff" stroke="#8000ff" stroke-width="1.6"/><path d="M327.6,592.3 L335.0,600.4 L334.3,601.1 L320.9,601.1 L320.2,600.4 Z" fill="#8000ff"/>
<path d="M334.6,593.5 L340.9,600.4 L334.6,607.4 L328.4,600.4 Z" fill="#fff" stroke="#8000ff" stroke-width="1.6"/><path d="M334.6,592.3 L342.0,600.4 L341.3,601.1 L327.9,601.1 L327.2,600.4 Z" fill="#8000ff"/>
<path d="M341.7,593.5 L348.0,600.4 L341.7,607.4 L335.5,600.4 Z" fill="#fff" stroke="#8000ff" stroke-width="1.6"/><path d="M341.7,592.3 L349.1,600.4 L348.4,601.1 L335.0,601.1 L334.3,600.4 Z" fill="#8000ff"/>
<path d="M348.8,593.5 L355.0,600.4 L348.8,607.4 L342.5,600.4 Z" fill="#fff" stroke="#8000ff" stroke-width="1.6"/><path d="M348.8,592.3 L356.2,600.4 L355.5,601.1 L342.1,601.1 L341.4,600.4 Z" fill="#8000ff"/>
<path d="M355.8,593.5 L362.1,600.4 L355.8,607.4 L349.6,600.4 Z" fill="#fff" stroke="#8000ff" stroke-width="1.6"/><path d="M355.8,592.3 L363.2,600.4 L362.5,601.1 L349.1,601.1 L348.4,600.4 Z" fill="#8000ff"/>
<path d="M362.9,593.5 L369.1,600.4 L362.9,607.4 L356.6,600.4 Z" fill="#fff" stroke="#8000ff" stroke-width="1.6"/><path d="M362.9,592.3 L370.3,600.4 L369.6,601.1 L356.2,601.1 L355.5,600.4 Z" fill="#8000ff"/>
<path d="M369.9,593.5 L376.2,600.4 L369.9,607.4 L363.7,600.4 Z" fill="#fff" stroke="#8000ff" stroke-width="1.6"/><path d="M369.9,592.3 L377.3,600.4 L376.6,601.1 L363.2,601.1 L362.5,600.4 Z" fill="#8000ff"/>
<path d="M377.0,593.5 L383.3,600.4 L377.0,607.4 L370.8,600.4 Z" fill="#fff" stroke="#8000ff" stroke-width="1.6"/><path d="M377.0,592.3 L384.4,600.4 L383.7,601.1 L370.3,601.1 L369.6,600.4 Z" fill="#8000ff"/>
<path d="M384.1,593.5 L390.3,600.4 L384.1,607.4 L377.8,600.4 Z" fill="#fff" stroke="#8000ff" stroke-width="1.6"/><path d="M384.1,592.3 L391.5,600.4 L390.8,601.1 L377.4,601.1 L376.7,600.4 Z" fill="#8000ff"/>
<path d="M391.1,593.5 L397.4,600.4 L391.1,607.4 L384.9,600.4 Z" fill="#fff" stroke="#8000ff" stroke-width="1.6"/><path d="M391.1,592.3 L398.5,600.4 L397.8,601.1 L384.4,601.1 L383.7,600.4 Z" fill="#8000ff"/>
<path d="M398.2,593.5 L404.4,600.4 L398.2,607.4 L391.9,600.4 Z" fill="#fff" stroke="#8000ff" stroke-width="1.6"/><path d="M398.2,592.3 L405.6,600.4 L404.9,601.1 L391.5,601.1 L390.8,600.4 Z" fill="#8000ff"/>
<path d="M405.2,593.5 L411.5,600.4 L405.2,607.4 L399.0,600.4 Z" fill="#fff" stroke="#8000ff" stroke-width="1.6"/><path d="M405.2,592.3 L412.6,600.4 L411.9,601.1 L398.5,601.1 L397.8,600.4 Z" fill="#8000ff"/>
<path d="M412.3,593.5 L418.6,600.4 L412.3,607.4 L406.1,600.4 Z" fill="#fff" stroke="#8000ff" stroke-width="1.6"/><path d="M412.3,592.3 L419.7,600.4 L419.0,601.1 L405.6,601.1 L404.9,600.4 Z" fill="#8000ff"/>
<path d="M419.4,593.5 L425.6,600.4 L419.4,607.4 L413.1,600.4 Z" fill="#fff" stroke="#8000ff" stroke-width="1.6"/><path d="M419.4,592.3 L426.8,600.4 L426.1,601.1 L412.7,601.1 L412.0,600.4 Z" fill="#8000ff"/>
<path d="M426.4,593.5 L432.7,600.4 L426.4,607.4 L420.2,600.4 Z" fill="#fff" stroke="#8000ff" stroke-width="1.6"/><path d="M426.4,592.3 L433.8,600.4 L433.1,601.1 L419.7,601.1 L419.0,600.4 Z" fill="#8000ff"/>
<path d="M433.5,593.5 L439.7,600.4 L433.5,607.4 L427.2,600.4 Z" fill="#fff" stroke="#8000ff" stroke-width="1.6"/><path d="M433.5,592.3 L440.9,600.4 L440.2,601.1 L426.8,601.1 L426.1,600.4 Z" fill="#8000ff"/>
<path d="M440.5,593.5 L446.8,600.4 L440.5,607.4 L434.3,600.4 Z" fill="#fff" stroke="#8000ff" stroke-width="1.6"/><path d="M440.5,592.3 L447.9,600.4 L447.2,601.1 L433.8,601.1 L433.1,600.4 Z" fill="#8000ff"/>
<path d="M447.6,593.5 L453.9,600.4 L447.6,607.4 L441.4,600.4 Z" fill="#fff" stroke="#8000ff" stroke-width="1.6"/><path d="M447.6,592.3 L455.0,600.4 L454.3,601.1 L440.9,601.1 L440.2,600.4 Z" fill="#8000ff"/>
<path d="M454.7,593.5 L460.9,600.4 L454.7,607.4 L448.4,600.4 Z" fill="#fff" stroke="#8000ff" stroke-width="1.6"/><path d="M454.7,592.3 L462.1,600.4 L461.4,601.1 L448.0,601.1 L447.3,600.4 Z" fill="#8000ff"/>
<path d="M461.7,593.5 L468.0,600.4 L461.7,607.4 L455.5,600.4 Z" fill="#fff" stroke="#8000ff" stroke-width="1.6"/><path d="M461.7,592.3 L469.1,600.4 L468.4,601.1 L455.0,601.1 L454.3,600.4 Z" fill="#8000ff"/>
<path d="M468.8,593.5 L475.0,600.4 L468.8,607.4 L462.5,600.4 Z" fill="#fff" stroke="#8000ff" stroke-width="1.6"/><path d="M468.8,592.3 L476.2,600.4 L475.5,601.1 L462.1,601.1 L461.4,600.4 Z" fill="#8000ff"/>
<path d="M475.8,593.5 L482.1,600.4 L475.8,607.4 L469.6,600.4 Z" fill="#fff" stroke="#8000ff" stroke-width="1.6"/><path d="M475.8,592.3 L483.2,600.4 L482.5,601.1 L469.1,601.1 L468.4,600.4 Z" fill="#8000ff"/>
<path d="M482.9,593.5 L489.2,600.4 L482.9,607.4 L476.7,600.4 Z" fill="#fff" stroke="#8000ff" stroke-width="1.6"/><path d="M482.9,592.3 L490.3,600.4 L489.6,601.1 L476.2,601.1 L475.5,600.4 Z" fill="#8000ff"/>
<path d="M490.0,593.5 L496.2,600.4 L490.0,607.4 L483.7,600.4 Z" fill="#fff" stroke="#8000ff" stroke-width="1.6"/><path d="M490.0,592.3 L497.4,600.4 L496.7,601.1 L483.3,601.1 L482.6,600.4 Z" fill="#8000ff"/>
<path d="M497.0,593.5 L503.3,600.4 L497.0,607.4 L490.8,600.4 Z" fill="#fff" stroke="#8000ff" stroke-width="1.6"/><path d="M497.0,592.3 L504.4,600.4 L503.7,601.1 L490.3,601.1 L489.6,600.4 Z" fill="#8000ff"/>
<path d="M504.1,593.5 L510.3,600.4 L504.1,607.4 L497.8,600.4 Z" fill="#fff" stroke="#8000ff" stroke-width="1.6"/><path d="M504.1,592.3 L511.5,600.4 L510.8,601.1 L497.4,601.1 L496.7,600.4 Z" fill="#8000ff"/>
<path d="M511.1,593.5 L517.4,600.4 L511.1,607.4 L504.9,600.4 Z" fill="#fff" stroke="#8000ff" stroke-width="1.6"/><path d="M511.1,592.3 L518.5,600.4 L517.8,601.1 L504.4,601.1 L503.7,600.4 Z" fill="#8000ff"/>
<path d="M518.2,593.5 L524.5,600.4 L518.2,607.4 L512.0,600.4 Z" fill="#fff" stroke="#8000ff" stroke-width="1.6"/><path d="M518.2,592.3 L525.6,600.4 L524.9,601.1 L511.5,601.1 L510.8,600.4 Z" fill="#8000ff"/>
<path d="M525.3,593.5 L531.5,600.4 L525.3,607.4 L519.0,600.4 Z" fill="#fff" stroke="#8000ff" stroke-width="1.6"/><path d="M525.3,592.3 L532.7,600.4 L532.0,601.1 L518.6,601.1 L517.9,600.4 Z" fill="#8000ff"/>
<path d="M532.3,593.5 L538.6,600.4 L532.3,607.4 L526.1,600.4 Z" fill="#fff" stroke="#8000ff" stroke-width="1.6"/><path d="M532.3,592.3 L539.7,600.4 L539.0,601.1 L525.6,601.1 L524.9,600.4 Z" fill="#8000ff"/>
<path d="M539.4,593.5 L545.6,600.4 L539.4,607.4 L533.1,600.4 Z" fill="#fff" stroke="#8000ff" stroke-width="1.6"/><path d="M539.4,592.3 L546.8,600.4 L546.1,601.1 L532.7,601.1 L532.0,600.4 Z" fill="#8000ff"/>
<path d="M546.4,593.5 L552.7,600.4 L546.4,607.4 L540.2,600.4 Z" fill="#fff" stroke="#8000ff" stroke-width="1.6"/><path d="M546.4,592.3 L553.8,600.4 L553.1,601.1 L539.7,601.1 L539.0,600.4 Z" fill="#8000ff"/>
<path d="M553.5,593.5 L559.8,600.4 L553.5,607.4 L547.3,600.4 Z" fill="#fff" stroke="#8000ff" stroke-width="1.6"/><path d="M553.5,592.3 L560.9,600.4 L560.2,601.1 L546.8,601.1 L546.1,600.4 Z" fill="#8000ff"/>
<path d="M560.6,593.5 L566.8,600.4 L560.6,607.4 L554.3,600.4 Z" fill="#fff" stroke="#8000ff" stroke-width="1.6"/><path d="M560.6,592.3 L568.0,600.4 L567.3,601.1 L553.9,601.1 L553.2,600.4 Z" fill="#8000ff"/>
<path d="M567.6,593.5 L573.9,600.4 L567.6,607.4 L561.4,600.4 Z" fill="#fff" stroke="#8000ff" stroke-width="1.6"/><path d="M567.6,592.3 L575.0,600.4 L574.3,601.1 L560.9,601.1 L560.2,600.4 Z" fill="#8000ff"/>
<path d="M574.7,593.5 L580.9,600.4 L574.7,607.4 L568.4,600.4 Z" fill="#fff" stroke="#8000ff" stroke-width="1.6"/><path d="M574.7,592.3 L582.1,600.4 L581.4,601.1 L568.0,601.1 L567.3,600.4 Z" fill="#8000ff"/>
<path d="M581.7,593.5 L588.0,600.4 L581.7,607.4 L575.5,600.4 Z" fill="#fff" stroke="#8000ff" stroke-width="1.6"/><path d="M581.7,592.3 L589.1,600.4 L588.4,601.1 L575.0,601.1 L574.3,600.4 Z" fill="#8000ff"/>
<path d="M588.8,593.5 L595.1,600.4 L588.8,607.4 L582.6,600.4 Z" fill="#fff" stroke="#8000ff" stroke-width="1.6"/><path d="M588.8,592.3 L596.2,600.4 L595.5,601.1 L582.1,601.1 L581.4,600.4 Z" fill="#8000ff"/>
<path d="M595.9,593.5 L602.1,600.4 L595.9,607.4 L589.6,600.4 Z" fill="#fff" stroke="#8000ff" stroke-width="1.6"/><path d="M595.9,592.3 L603.3,600.4 L602.6,601.1 L589.2,601.1 L588.5,600.4 Z" fill="#8000ff"/>
<path d="M602.9,593.5 L609.2,600.4 L602.9,607.4 L596.7,600.4 Z" fill="#fff" stroke="#8000ff" stroke-width="1.6"/><path d="M602.9,592.3 L610.3,600.4 L609.6,601.1 L596.2,601.1 L595.5,600.4 Z" fill="#8000ff"/>
<path d="M610.0,593.5 L616.2,600.4 L610.0,607.4 L603.7,600.4 Z" fill="#fff" stroke="#8000ff" stroke-width="1.6"/><path d="M610.0,592.3 L617.4,600.4 L616.7,601.1 L603.3,601.1 L602.6,600.4 Z" fill="#8000ff"/>
<path d="M617.0,593.5 L623.3,600.4 L617.0,607.4 L610.8,600.4 Z" fill="#fff" stroke="#8000ff" stroke-width="1.6"/><path d="M617.0,592.3 L624.4,600.4 L623.7,601.1 L610.3,601.1 L609.6,600.4 Z" fill="#8000ff"/>
<path d="M624.1,593.5 L630.4,600.4 L624.1,607.4 L617.9,600.4 Z" fill="#fff" stroke="#8000ff" stroke-width="1.6"/><path d="M624.1,592.3 L631.5,600.4 L630.8,601.1 L617.4,601.1 L616.7,600.4 Z" fill="#8000ff"/>
<path d="M631.2,593.5 L637.4,600.4 L631.2,607.4 L624.9,600.4 Z" fill="#fff" stroke="#8000ff" stroke-width="1.6"/><path d="M631.2,592.3 L638.6,600.4 L637.9,601.1 L624.5,601.1 L623.8,600.4 Z" fill="#8000ff"/>
<path d="M638.2,593.5 L644.5,600.4 L638.2,607.4 L632.0,600.4 Z" fill="#fff" stroke="#8000ff" stroke-width="1.6"/><path d="M638.2,592.3 L645.6,600.4 L644.9,601.1 L631.5,601.1 L630.8,600.4 Z" fill="#8000ff"/>
<path d="M645.3,593.3 L651.5,600.3 L645.3,607.2 L639.0,600.3 Z" fill="#fff" stroke="#8000ff" stroke-width="1.6"/><path d="M645.3,592.2 L652.7,600.3 L652.0,601.0 L638.6,601.0 L637.9,600.3 Z" fill="#8000ff"/>
<path d="M652.3,593.2 L658.6,600.2 L652.3,607.1 L646.1,600.2 Z" fill="#fff" stroke="#8000ff" stroke-width="1.6"/><path d="M652.3,592.1 L659.7,600.2 L659.0,600.9 L645.6,600.9 L644.9,600.2 Z" fill="#8000ff"/>
<path d="M659.4,593.1 L665.7,600.0 L659.4,607.0 L653.2,600.0 Z" fill="#fff" stroke="#8000ff" stroke-width="1.6"/><path d="M659.4,591.9 L666.8,600.0 L666.1,600.7 L652.7,600.7 L652.0,600.0 Z" fill="#8000ff"/>
<path d="M666.5,592.9 L672.7,599.9 L666.5,606.8 L660.2,599.9 Z" fill="#fff" stroke="#8000ff" stroke-width="1.6"/><path d="M666.5,591.8 L673.9,599.9 L673.2,600.6 L659.8,600.6 L659.1,599.9 Z" fill="#8000ff"/>
<path d="M673.5,592.8 L679.8,599.7 L673.5,606.7 L667.3,599.7 Z" fill="#fff" stroke="#8000ff" stroke-width="1.6"/><path d="M673.5,591.6 L680.9,599.7 L680.2,600.4 L666.8,600.4 L666.1,599.7 Z" fill="#8000ff"/>
<path d="M680.6,592.6 L686.8,599.6 L680.6,606.5 L674.3,599.6 Z" fill="#fff" stroke="#8000ff" stroke-width="1.6"/><path d="M680.6,591.5 L688.0,599.6 L687.3,600.3 L673.9,600.3 L673.2,599.6 Z" fill="#8000ff"/>
<path d="M687.6,592.5 L693.9,599.4 L687.6,606.4 L681.4,599.4 Z" fill="#fff" stroke="#8000ff" stroke-width="1.6"/><path d="M687.6,591.3 L695.0,599.4 L694.3,600.1 L680.9,600.1 L680.2,599.4 Z" fill="#8000ff"/>
<path d="M694.7,592.4 L701.0,599.3 L694.7,606.3 L688.5,599.3 Z" fill="#fff" stroke="#8000ff" stroke-width="1.6"/><path d="M694.7,591.2 L702.1,599.3 L701.4,600.0 L688.0,600.0 L687.3,599.3 Z" fill="#8000ff"/>
<path d="M701.8,592.2 L708.0,599.1 L701.8,606.1 L695.5,599.1 Z" fill="#fff" stroke="#8000ff" stroke-width="1.6"/><path d="M701.8,591.0 L709.2,599.1 L708.5,599.8 L695.1,599.8 L694.4,599.1 Z" fill="#8000ff"/>
<path d="M708.8,591.8 L715.1,598.8 L708.8,605.7 L702.6,598.8 Z" fill="#fff" stroke="#8000ff" stroke-width="1.6"/><path d="M708.8,590.7 L716.2,598.8 L715.5,599.5 L702.1,599.5 L701.4,598.8 Z" fill="#8000ff"/>
<path d="M715.9,591.5 L722.1,598.5 L715.9,605.4 L709.6,598.5 Z" fill="#fff" stroke="#8000ff" stroke-width="1.6"/><path d="M715.9,590.4 L723.3,598.5 L722.6,599.2 L709.2,599.2 L708.5,598.5 Z" fill="#8000ff"/>
<path d="M722.9,591.2 L729.2,598.1 L722.9,605.1 L716.7,598.1 Z" fill="#fff" stroke="#8000ff" stroke-width="1.6"/><path d="M722.9,590.0 L730.3,598.1 L729.6,598.8 L716.2,598.8 L715.5,598.1 Z" fill="#8000ff"/>
<path d="M730.0,590.9 L736.3,597.8 L730.0,604.8 L723.8,597.8 Z" fill="#fff" stroke="#8000ff" stroke-width="1.6"/><path d="M730.0,589.7 L737.4,597.8 L736.7,598.5 L723.3,598.5 L722.6,597.8 Z" fill="#8000ff"/>
<path d="M737.1,590.5 L743.3,597.5 L737.1,604.4 L730.8,597.5 Z" fill="#fff" stroke="#8000ff" stroke-width="1.6"/><path d="M737.1,589.4 L744.5,597.5 L743.8,598.2 L730.4,598.2 L729.7,597.5 Z" fill="#8000ff"/>
<path d="M744.1,590.2 L750.4,597.2 L744.1,604.1 L737.9,597.2 Z" fill="#fff" stroke="#8000ff" stroke-width="1.6"/><path d="M744.1,589.1 L751.5,597.2 L750.8,597.9 L737.4,597.9 L736.7,597.2 Z" fill="#8000ff"/>
<path d="M751.2,589.5 L757.4,596.5 L751.2,603.4 L744.9,596.5 Z" fill="#fff" stroke="#8000ff" stroke-width="1.6"/><path d="M751.2,588.4 L758.6,596.5 L757.9,597.2 L744.5,597.2 L743.8,596.5 Z" fill="#8000ff"/>
<path d="M758.2,588.8 L764.5,595.7 L758.2,602.7 L752.0,595.7 Z" fill="#fff" stroke="#8000ff" stroke-width="1.6"/><path d="M758.2,587.6 L765.6,595.7 L764.9,596.4 L751.5,596.4 L750.8,595.7 Z" fill="#8000ff"/>
<path d="M765.3,588.0 L771.6,595.0 L765.3,601.9 L759.1,595.0 Z" fill="#fff" stroke="#8000ff" stroke-width="1.6"/><path d="M765.3,586.9 L772.7,595.0 L772.0,595.7 L758.6,595.7 L757.9,595.0 Z" fill="#8000ff"/>
<path d="M772.4,587.3 L778.6,594.3 L772.4,601.2 L766.1,594.3 Z" fill="#fff" stroke="#8000ff" stroke-width="1.6"/><path d="M772.4,586.2 L779.8,594.3 L779.1,595.0 L765.7,595.0 L765.0,594.3 Z" fill="#8000ff"/>
<path d="M779.4,586.6 L785.7,593.5 L779.4,600.5 L773.2,593.5 Z" fill="#fff" stroke="#8000ff" stroke-width="1.6"/><path d="M779.4,585.4 L786.8,593.5 L786.1,594.2 L772.7,594.2 L772.0,593.5 Z" fill="#8000ff"/>
<path d="M786.5,585.8 L792.7,592.8 L786.5,599.7 L780.2,592.8 Z" fill="#fff" stroke="#8000ff" stroke-width="1.6"/><path d="M786.5,584.7 L793.9,592.8 L793.2,593.5 L779.8,593.5 L779.1,592.8 Z" fill="#8000ff"/>
<path d="M796.8,584.2 L803.0,591.2 L796.8,598.2 L790.5,591.2 Z" fill="#fff" stroke="#8000ff" stroke-width="1.6"/><path d="M796.8,583.1 L804.2,591.2 L803.5,591.9 L790.1,591.9 L789.4,591.2 Z" fill="#8000ff"/>
<path d="M807.6,583.2 L813.9,590.2 L807.6,597.2 L801.4,590.2 Z" fill="#fff" stroke="#8000ff" stroke-width="1.6"/><path d="M807.6,582.1 L815.0,590.2 L814.3,590.9 L800.9,590.9 L800.2,590.2 Z" fill="#8000ff"/>
<path d="M814.4,582.5 L820.6,589.4 L814.4,596.4 L808.1,589.4 Z" fill="#fff" stroke="#8000ff" stroke-width="1.6"/><path d="M814.4,581.3 L821.8,589.4 L821.1,590.1 L807.7,590.1 L807.0,589.4 Z" fill="#8000ff"/>
<path d="M821.7,581.4 L828.0,588.3 L821.7,595.3 L815.5,588.3 Z" fill="#fff" stroke="#8000ff" stroke-width="1.6"/><path d="M821.7,580.2 L829.1,588.3 L828.4,589.0 L815.0,589.0 L814.3,588.3 Z" fill="#8000ff"/>
<path d="M835.9,579.0 L842.1,586.0 L835.9,593.0 L829.6,586.0 Z" fill="#fff" stroke="#8000ff" stroke-width="1.6"/><path d="M835.9,577.9 L843.3,586.0 L842.6,586.7 L829.2,586.7 L828.5,586.0 Z" fill="#8000ff"/>
<path d="M849.6,577.0 L855.9,583.9 L849.6,590.9 L843.4,583.9 Z" fill="#fff" stroke="#8000ff" stroke-width="1.6"/><path d="M849.6,575.8 L857.0,583.9 L856.3,584.6 L842.9,584.6 L842.2,583.9 Z" fill="#8000ff"/>
<path d="M857.4,575.5 L863.6,582.4 L857.4,589.4 L851.1,582.4 Z" fill="#fff" stroke="#8000ff" stroke-width="1.6"/><path d="M857.4,574.3 L864.8,582.4 L864.1,583.1 L850.7,583.1 L850.0,582.4 Z" fill="#8000ff"/>
<path d="M871.1,572.0 L877.4,579.0 L871.1,586.0 L864.9,579.0 Z" fill="#fff" stroke="#8000ff" stroke-width="1.6"/><path d="M871.1,570.9 L878.5,579.0 L877.8,579.7 L864.4,579.7 L863.7,579.0 Z" fill="#8000ff"/>
<path d="M885.3,569.0 L891.5,576.0 L885.3,583.0 L879.0,576.0 Z" fill="#fff" stroke="#8000ff" stroke-width="1.6"/><path d="M885.3,567.9 L892.7,576.0 L892.0,576.7 L878.6,576.7 L877.9,576.0 Z" fill="#8000ff"/>
<path d="M895.8,567.0 L902.0,574.0 L895.8,581.0 L889.5,574.0 Z" fill="#fff" stroke="#8000ff" stroke-width="1.6"/><path d="M895.8,565.9 L903.2,574.0 L902.5,574.7 L889.1,574.7 L888.4,574.0 Z" fill="#8000ff"/>
<path d="M905.8,564.4 L912.0,571.3 L905.8,578.3 L899.5,571.3 Z" fill="#fff" stroke="#8000ff" stroke-width="1.6"/><path d="M905.8,563.2 L913.2,571.3 L912.5,572.0 L899.1,572.0 L898.4,571.3 Z" fill="#8000ff"/>
<path d="M913.4,562.0 L919.6,569.0 L913.4,576.0 L907.1,569.0 Z" fill="#fff" stroke="#8000ff" stroke-width="1.6"/><path d="M913.4,560.9 L920.8,569.0 L920.1,569.7 L906.7,569.7 L906.0,569.0 Z" fill="#8000ff"/>
<path d="M920.4,560.0 L926.6,567.0 L920.4,574.0 L914.1,567.0 Z" fill="#fff" stroke="#8000ff" stroke-width="1.6"/><path d="M920.4,558.9 L927.8,567.0 L927.1,567.7 L913.7,567.7 L913.0,567.0 Z" fill="#8000ff"/>
<path d="M930.4,556.8 L936.6,563.7 L930.4,570.7 L924.1,563.7 Z" fill="#fff" stroke="#8000ff" stroke-width="1.6"/><path d="M930.4,555.6 L937.8,563.7 L937.1,564.4 L923.7,564.4 L923.0,563.7 Z" fill="#8000ff"/>
<path d="M937.4,554.5 L943.6,561.4 L937.4,568.4 L931.1,561.4 Z" fill="#fff" stroke="#8000ff" stroke-width="1.6"/><path d="M937.4,553.3 L944.8,561.4 L944.1,562.1 L930.7,562.1 L930.0,561.4 Z" fill="#8000ff"/>
<path d="M945.0,551.5 L951.2,558.4 L945.0,565.4 L938.8,558.4 Z" fill="#fff" stroke="#8000ff" stroke-width="1.6"/><path d="M945.0,550.3 L952.4,558.4 L951.7,559.1 L938.3,559.1 L937.6,558.4 Z" fill="#8000ff"/>
<path d="M952.1,548.4 L958.4,555.3 L952.1,562.3 L945.9,555.3 Z" fill="#fff" stroke="#8000ff" stroke-width="1.6"/><path d="M952.1,547.2 L959.5,555.3 L958.8,556.0 L945.4,556.0 L944.7,555.3 Z" fill="#8000ff"/>
<path d="M962.6,544.9 L968.9,551.8 L962.6,558.8 L956.4,551.8 Z" fill="#fff" stroke="#8000ff" stroke-width="1.6"/><path d="M962.6,543.7 L970.0,551.8 L969.3,552.5 L955.9,552.5 L955.2,551.8 Z" fill="#8000ff"/>
<path d="M969.7,541.8 L976.0,548.7 L969.7,555.7 L963.5,548.7 Z" fill="#fff" stroke="#8000ff" stroke-width="1.6"/><path d="M969.7,540.6 L977.1,548.7 L976.4,549.4 L963.0,549.4 L962.3,548.7 Z" fill="#8000ff"/>
<path d="M976.7,538.0 L983.0,545.0 L976.7,552.0 L970.5,545.0 Z" fill="#fff" stroke="#8000ff" stroke-width="1.6"/><path d="M976.7,536.9 L984.1,545.0 L983.4,545.7 L970.0,545.7 L969.3,545.0 Z" fill="#8000ff"/>
<path d="M984.3,533.4 L990.5,540.3 L984.3,547.3 L978.0,540.3 Z" fill="#fff" stroke="#8000ff" stroke-width="1.6"/><path d="M984.3,532.2 L991.7,540.3 L991.0,541.0 L977.6,541.0 L976.9,540.3 Z" fill="#8000ff"/>
<path d="M991.3,528.6 L997.5,535.6 L991.3,542.6 L985.0,535.6 Z" fill="#fff" stroke="#8000ff" stroke-width="1.6"/><path d="M991.3,527.5 L998.7,535.6 L998.0,536.3 L984.6,536.3 L983.9,535.6 Z" fill="#8000ff"/>
<path d="M998.5,524.2 L1004.8,531.2 L998.5,538.2 L992.2,531.2 Z" fill="#fff" stroke="#8000ff" stroke-width="1.6"/><path d="M998.5,523.1 L1005.9,531.2 L1005.2,531.9 L991.8,531.9 L991.1,531.2 Z" fill="#8000ff"/>
</g>
<g stroke="#000" stroke-width="2.5" fill="none" stroke-linecap="butt">
<path d="M112.3,21.9 L112.3,625.4"/>
<path d="M111.05,614.0 L995.85,614.0"/>
<path d="M101.6,602.2 L112.3,602.2"/>
<path d="M101.6,545.3 L112.3,545.3"/>
<path d="M101.6,488.5 L112.3,488.5"/>
<path d="M101.6,431.6 L112.3,431.6"/>
<path d="M101.6,374.7 L112.3,374.7"/>
<path d="M101.6,317.9 L112.3,317.9"/>
<path d="M101.6,261.0 L112.3,261.0"/>
<path d="M101.6,204.1 L112.3,204.1"/>
<path d="M101.6,147.2 L112.3,147.2"/>
<path d="M101.6,90.4 L112.3,90.4"/>
<path d="M101.6,33.5 L112.3,33.5"/>
<path d="M106.89999999999999,573.8 L112.3,573.8"/>
<path d="M106.89999999999999,516.9 L112.3,516.9"/>
<path d="M106.89999999999999,460.0 L112.3,460.0"/>
<path d="M106.89999999999999,403.2 L112.3,403.2"/>
<path d="M106.89999999999999,346.3 L112.3,346.3"/>
<path d="M106.89999999999999,289.4 L112.3,289.4"/>
<path d="M106.89999999999999,232.5 L112.3,232.5"/>
<path d="M106.89999999999999,175.7 L112.3,175.7"/>
<path d="M106.89999999999999,118.8 L112.3,118.8"/>
<path d="M106.89999999999999,61.9 L112.3,61.9"/>
<path d="M112.3,614.0 L112.3,625.4"/>
<path d="M288.8,614.0 L288.8,625.4"/>
<path d="M465.2,614.0 L465.2,625.4"/>
<path d="M641.7,614.0 L641.7,625.4"/>
<path d="M818.1,614.0 L818.1,625.4"/>
<path d="M994.6,614.0 L994.6,625.4"/>
<path d="M200.5,614.0 L200.5,619.5"/>
<path d="M377.0,614.0 L377.0,619.5"/>
<path d="M553.4,614.0 L553.4,619.5"/>
<path d="M729.9,614.0 L729.9,619.5"/>
<path d="M906.4,614.0 L906.4,619.5"/>
</g>
<g font-family="'Liberation Sans', sans-serif" font-size="21.3" fill="#000">
<text x="94.5" y="608.2" text-anchor="end">0</text>
<text x="94.5" y="551.3" text-anchor="end">10</text>
<text x="94.5" y="494.5" text-anchor="end">20</text>
<text x="94.5" y="437.6" text-anchor="end">30</text>
<text x="94.5" y="380.7" text-anchor="end">40</text>
<text x="94.5" y="323.9" text-anchor="end">50</text>
<text x="94.5" y="267.0" text-anchor="end">60</text>
<text x="94.5" y="210.1" text-anchor="end">70</text>
<text x="94.5" y="153.2" text-anchor="end">80</text>
<text x="94.5" y="96.4" text-anchor="end">90</text>
<text x="94.5" y="39.5" text-anchor="end">100</text>
<text x="112.3" y="649" text-anchor="middle">150</text>
<text x="288.8" y="649" text-anchor="middle">200</text>
<text x="465.2" y="649" text-anchor="middle">250</text>
<text x="641.7" y="649" text-anchor="middle">300</text>
<text x="818.1" y="649" text-anchor="middle">350</text>
<text x="994.6" y="649" text-anchor="middle">400</text>
</g>
<g font-family="'Liberation Sans', sans-serif" font-size="26.4" fill="#000">
<text x="552.9" y="690" text-anchor="middle">Temperature (°C)</text>
<text transform="translate(40.8,335.6) rotate(-90)" text-anchor="middle">Toluene conversion (%)</text>
</g>
<rect x="141.9" y="23.8" width="226.29999999999998" height="269.7" fill="#fff" stroke="#000" stroke-width="1.7"/>
<g font-family="'Liberation Sans', sans-serif" font-size="20" fill="#000">
<path d="M160,51.3 L205.4,51.3" stroke="#0000ff" stroke-width="2.0"/>
<circle cx="182.6" cy="51.3" r="6.1" fill="#0000ff"/>
<text x="210.6" y="58.3">Au/Cu<tspan font-size="12.5" dy="8.5">6</tspan><tspan dy="-8.5">Al</tspan><tspan font-size="12.5" dy="8.5">2</tspan><tspan dy="-8.5">HT500</tspan></text>
<path d="M160,83.2 L205.4,83.2" stroke="#000080" stroke-width="2.0"/>
<circle cx="182.6" cy="83.2" r="5.3" fill="#fff" stroke="#000080" stroke-width="1.5"/><path d="M176.64,83.9 A6.0,6.0 0 0 1 188.56,83.9 Z" fill="#000080"/>
<text x="210.6" y="90.2">Cu<tspan font-size="12.5" dy="8.5">6</tspan><tspan dy="-8.5">Al</tspan><tspan font-size="12.5" dy="8.5">2</tspan><tspan dy="-8.5">HT500</tspan></text>
<path d="M160,115.2 L205.4,115.2" stroke="#808000" stroke-width="2.0"/>
<rect x="177.2" y="109.8" width="10.8" height="10.8" fill="#808000"/>
<text x="210.6" y="122.2">Au/Fe<tspan font-size="12.5" dy="8.5">6</tspan><tspan dy="-8.5">Al</tspan><tspan font-size="12.5" dy="8.5">2</tspan><tspan dy="-8.5">HT500</tspan></text>
<path d="M160,147.1 L205.4,147.1" stroke="#800000" stroke-width="2.0"/>
<rect x="177.95" y="142.44" width="9.30" height="9.30" fill="#fff" stroke="#800000" stroke-width="1.6"/><rect x="177.15" y="141.64" width="10.9" height="6.3500000000000005" fill="#800000"/>
<text x="210.6" y="154.1">Fe<tspan font-size="12.5" dy="8.5">6</tspan><tspan dy="-8.5">Al</tspan><tspan font-size="12.5" dy="8.5">2</tspan><tspan dy="-8.5">HT500</tspan></text>
<path d="M160,179.0 L205.4,179.0" stroke="#00ff00" stroke-width="2.0"/>
<path d="M182.6,170.7 L190.0,184.0 L175.2,184.0 Z" fill="#00ff00"/>
<text x="210.6" y="186.0">Au/Zn<tspan font-size="12.5" dy="8.5">6</tspan><tspan dy="-8.5">Al</tspan><tspan font-size="12.5" dy="8.5">2</tspan><tspan dy="-8.5">HT500</tspan></text>
<path d="M160,210.9 L205.4,210.9" stroke="#008000" stroke-width="2.0"/>
<path d="M182.6,202.6 L190.0,215.9 L175.2,215.9 Z" fill="#008000"/><path d="M179.06,212.05 L186.14,212.05 L187.26,214.05 L177.94,214.05 Z" fill="#fff"/>
<text x="210.6" y="217.9">Zn<tspan font-size="12.5" dy="8.5">6</tspan><tspan dy="-8.5">Al</tspan><tspan font-size="12.5" dy="8.5">2</tspan><tspan dy="-8.5">HT500</tspan></text>
<path d="M160,242.9 L205.4,242.9" stroke="#800080" stroke-width="2.0"/>
<path d="M182.6,234.8 L190.4,243.1 L182.6,251.4 L174.8,243.1 Z" fill="#800080"/>
<text x="210.6" y="249.9">Au/Mg<tspan font-size="12.5" dy="8.5">6</tspan><tspan dy="-8.5">Al</tspan><tspan font-size="12.5" dy="8.5">2</tspan><tspan dy="-8.5">HT500</tspan></text>
<path d="M160,274.8 L205.4,274.8" stroke="#8000ff" stroke-width="2.0"/>
<path d="M182.6,268.1 L188.8,275.0 L182.6,282.0 L176.3,275.0 Z" fill="#fff" stroke="#8000ff" stroke-width="1.6"/><path d="M182.6,266.9 L190.0,275.0 L189.3,275.7 L175.9,275.7 L175.2,275.0 Z" fill="#8000ff"/>
<text x="210.6" y="281.8">Mg<tspan font-size="12.5" dy="8.5">6</tspan><tspan dy="-8.5">Al</tspan><tspan font-size="12.5" dy="8.5">2</tspan><tspan dy="-8.5">HT500</tspan></text>
</g>
</svg>
</body></html>
